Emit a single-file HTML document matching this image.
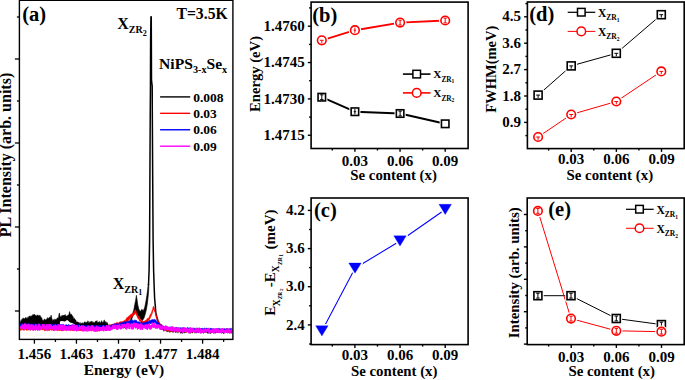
<!DOCTYPE html>
<html><head><meta charset="utf-8"><style>
html,body{margin:0;padding:0;background:#fff;}
svg{display:block;}
text{font-family:"Liberation Serif",serif;font-weight:bold;}
</style></head><body>
<svg width="685" height="380" viewBox="0 0 685 380">
<rect width="685" height="380" fill="#fff"/>
<path d="M19.50,323.18 L19.90,322.31 L20.30,322.47 L20.70,320.63 L21.10,320.76 L21.50,320.06 L21.90,319.10 L22.30,319.51 L22.70,318.27 L23.10,318.67 L23.50,317.95 L23.90,317.93 L24.30,318.47 L24.70,319.13 L25.10,317.81 L25.50,317.93 L25.90,317.25 L26.30,317.70 L26.70,318.38 L27.10,317.94 L27.50,318.71 L27.90,316.75 L28.30,317.94 L28.70,316.63 L29.10,316.13 L29.50,315.96 L29.90,316.19 L30.30,316.98 L30.70,315.72 L31.10,316.30 L31.50,316.20 L31.90,315.52 L32.30,315.64 L32.70,314.56 L33.10,314.42 L33.50,314.75 L33.90,314.80 L34.30,314.01 L34.70,314.45 L35.10,315.37 L35.50,315.53 L35.90,315.32 L36.30,316.08 L36.70,315.71 L37.10,314.74 L37.50,315.33 L37.90,315.25 L38.30,315.88 L38.70,315.61 L39.10,314.88 L39.50,316.40 L39.90,315.11 L40.30,315.92 L40.70,317.06 L41.10,316.77 L41.50,318.18 L41.90,317.88 L42.30,319.52 L42.70,320.20 L43.10,320.23 L43.50,320.78 L43.90,319.76 L44.30,318.95 L44.70,318.95 L45.10,320.16 L45.50,319.62 L45.90,319.99 L46.30,319.86 L46.70,318.69 L47.10,318.75 L47.50,317.46 L47.90,318.41 L48.30,318.11 L48.70,318.54 L49.10,318.06 L49.50,317.01 L49.90,317.10 L50.30,317.53 L50.70,316.31 L51.10,315.01 L51.50,316.03 L51.90,318.39 L52.30,319.21 L52.70,321.08 L53.10,319.72 L53.50,319.73 L53.90,319.78 L54.30,320.43 L54.70,318.80 L55.10,319.26 L55.50,319.25 L55.90,319.65 L56.30,319.34 L56.70,319.23 L57.10,317.98 L57.50,318.03 L57.90,317.74 L58.30,318.49 L58.70,315.74 L59.10,313.08 L59.50,313.05 L59.90,315.45 L60.30,316.59 L60.70,316.85 L61.10,316.80 L61.50,315.97 L61.90,315.27 L62.30,315.67 L62.70,315.21 L63.10,315.19 L63.50,315.51 L63.90,315.05 L64.30,314.88 L64.70,315.20 L65.10,315.45 L65.50,314.45 L65.90,316.09 L66.30,315.99 L66.70,316.28 L67.10,316.21 L67.50,315.37 L67.90,315.27 L68.30,314.63 L68.70,315.47 L69.10,313.32 L69.50,311.45 L69.90,312.32 L70.30,313.99 L70.70,314.39 L71.10,313.91 L71.50,314.30 L71.90,315.05 L72.30,315.44 L72.70,316.42 L73.10,316.35 L73.50,318.41 L73.90,318.47 L74.30,318.11 L74.70,318.76 L75.10,319.39 L75.50,319.88 L75.90,319.91 L76.30,321.61 L76.70,322.25 L77.10,321.68 L77.50,322.10 L77.90,321.76 L78.30,321.99 L78.70,322.56 L79.10,322.56 L79.50,323.72 L79.90,322.66 L80.30,322.49 L80.70,324.22 L81.10,323.52 L81.50,322.89 L81.90,323.66 L82.30,322.55 L82.70,323.20 L83.10,323.75 L83.50,323.28 L83.90,322.72 L84.30,321.86 L84.70,322.04 L85.10,321.66 L85.50,322.74 L85.90,322.30 L86.30,322.73 L86.70,321.90 L87.10,321.70 L87.50,321.99 L87.90,320.64 L88.30,321.30 L88.70,322.69 L89.10,322.70 L89.50,322.55 L89.90,321.61 L90.30,322.11 L90.70,321.79 L91.10,321.18 L91.50,321.15 L91.90,321.58 L92.30,321.52 L92.70,322.27 L93.10,322.72 L93.50,321.78 L93.90,322.63 L94.30,322.70 L94.70,322.62 L95.10,321.57 L95.50,321.33 L95.90,321.36 L96.30,321.32 L96.70,321.11 L97.10,320.50 L97.50,322.63 L97.90,322.54 L98.30,321.90 L98.70,322.23 L99.10,322.51 L99.50,321.23 L99.90,322.29 L100.30,322.75 L100.70,322.54 L101.10,321.65 L101.50,320.60 L101.90,321.52 L102.30,322.64 L102.70,321.83 L103.10,322.70 L103.50,321.61 L103.90,320.41 L104.30,319.81 L104.70,321.04 L105.10,322.66 L105.50,321.68 L105.90,321.62 L106.30,321.85 L106.70,323.45 L107.10,323.51 L107.50,322.56 L107.90,324.03 L108.30,325.11 L108.70,325.53 L109.10,325.73 L109.50,326.10 L109.90,325.36 L110.30,325.16 L110.70,326.89 L111.10,326.32 L111.50,326.11 L111.90,326.86 L112.30,325.97 L112.70,326.77 L113.10,326.69 L113.50,325.60 L113.90,325.68 L114.30,325.77 L114.70,325.68 L115.10,326.32 L115.50,325.74 L115.90,326.04 L116.30,325.53 L116.70,326.94 L117.10,325.95 L117.50,326.15 L117.90,326.38 L118.30,326.97 L118.70,326.11 L119.10,327.02 L119.50,326.28 L119.90,326.34 L120.30,326.34 L120.70,325.44 L121.10,326.21 L121.50,325.76 L121.90,325.45 L122.30,326.89 L122.70,325.77 L123.10,326.32 L123.50,326.79 L123.90,326.49 L124.30,326.09 L124.70,326.45 L125.10,326.52 L125.50,326.95 L125.90,325.74 L126.30,326.56 L126.70,326.01 L127.10,326.07 L127.50,326.98 L127.90,326.51 L127.90,327.30 L127.50,327.44 L127.10,327.48 L126.70,326.99 L126.30,327.00 L125.90,327.46 L125.50,327.86 L125.10,327.19 L124.70,327.66 L124.30,327.84 L123.90,327.45 L123.50,327.76 L123.10,327.06 L122.70,327.88 L122.30,327.45 L121.90,327.06 L121.50,327.49 L121.10,327.12 L120.70,327.84 L120.30,327.10 L119.90,327.16 L119.50,327.33 L119.10,327.85 L118.70,327.69 L118.30,327.32 L117.90,326.88 L117.50,327.79 L117.10,327.83 L116.70,327.04 L116.30,327.73 L115.90,326.95 L115.50,327.29 L115.10,327.29 L114.70,327.33 L114.30,327.10 L113.90,327.48 L113.50,327.49 L113.10,327.47 L112.70,327.06 L112.30,326.84 L111.90,326.79 L111.50,327.34 L111.10,327.07 L110.70,327.50 L110.30,327.01 L109.90,326.90 L109.50,326.82 L109.10,327.38 L108.70,327.35 L108.30,327.49 L107.90,327.41 L107.50,327.20 L107.10,327.09 L106.70,327.20 L106.30,327.68 L105.90,327.43 L105.50,326.89 L105.10,327.41 L104.70,326.94 L104.30,326.75 L103.90,326.92 L103.50,327.40 L103.10,326.72 L102.70,327.31 L102.30,327.18 L101.90,327.14 L101.50,327.38 L101.10,327.43 L100.70,326.63 L100.30,327.11 L99.90,327.29 L99.50,327.23 L99.10,327.23 L98.70,327.15 L98.30,327.43 L97.90,326.69 L97.50,326.94 L97.10,326.71 L96.70,326.60 L96.30,326.79 L95.90,327.25 L95.50,327.23 L95.10,327.44 L94.70,327.12 L94.30,327.36 L93.90,327.33 L93.50,327.36 L93.10,327.02 L92.70,327.04 L92.30,326.65 L91.90,327.31 L91.50,327.23 L91.10,327.12 L90.70,327.38 L90.30,327.31 L89.90,326.52 L89.50,327.11 L89.10,327.19 L88.70,326.61 L88.30,327.44 L87.90,326.77 L87.50,326.83 L87.10,327.31 L86.70,327.15 L86.30,327.08 L85.90,327.17 L85.50,326.94 L85.10,326.99 L84.70,326.63 L84.30,326.70 L83.90,326.41 L83.50,326.43 L83.10,326.78 L82.70,326.46 L82.30,326.63 L81.90,326.37 L81.50,326.86 L81.10,326.55 L80.70,326.85 L80.30,326.82 L79.90,326.72 L79.50,326.33 L79.10,326.68 L78.70,326.63 L78.30,327.28 L77.90,326.55 L77.50,326.85 L77.10,327.27 L76.70,327.25 L76.30,326.55 L75.90,326.73 L75.50,326.43 L75.10,326.73 L74.70,326.56 L74.30,326.50 L73.90,326.53 L73.50,326.92 L73.10,327.11 L72.70,327.08 L72.30,326.31 L71.90,326.39 L71.50,326.47 L71.10,326.95 L70.70,326.28 L70.30,326.33 L69.90,326.25 L69.50,326.54 L69.10,326.59 L68.70,326.82 L68.30,326.88 L67.90,327.00 L67.50,326.51 L67.10,327.14 L66.70,326.84 L66.30,326.65 L65.90,326.53 L65.50,326.97 L65.10,326.63 L64.70,326.56 L64.30,326.94 L63.90,326.22 L63.50,327.04 L63.10,326.58 L62.70,326.29 L62.30,326.64 L61.90,326.82 L61.50,326.10 L61.10,326.33 L60.70,326.09 L60.30,326.41 L59.90,326.24 L59.50,326.55 L59.10,326.34 L58.70,326.80 L58.30,326.34 L57.90,326.34 L57.50,326.23 L57.10,326.07 L56.70,326.18 L56.30,326.12 L55.90,326.24 L55.50,326.52 L55.10,326.12 L54.70,326.25 L54.30,326.91 L53.90,326.53 L53.50,326.31 L53.10,326.42 L52.70,326.82 L52.30,326.02 L51.90,326.80 L51.50,326.03 L51.10,326.74 L50.70,326.57 L50.30,326.86 L49.90,325.99 L49.50,326.34 L49.10,326.60 L48.70,325.96 L48.30,325.99 L47.90,326.59 L47.50,326.46 L47.10,326.80 L46.70,326.03 L46.30,326.13 L45.90,326.68 L45.50,326.77 L45.10,326.28 L44.70,325.98 L44.30,326.11 L43.90,326.62 L43.50,325.87 L43.10,326.09 L42.70,325.93 L42.30,326.79 L41.90,326.60 L41.50,326.79 L41.10,325.86 L40.70,326.31 L40.30,326.41 L39.90,326.11 L39.50,325.79 L39.10,326.21 L38.70,326.32 L38.30,325.78 L37.90,326.48 L37.50,326.07 L37.10,325.94 L36.70,326.08 L36.30,326.25 L35.90,326.16 L35.50,325.88 L35.10,326.55 L34.70,326.70 L34.30,326.19 L33.90,326.10 L33.50,326.65 L33.10,325.91 L32.70,326.65 L32.30,326.56 L31.90,325.81 L31.50,326.33 L31.10,326.38 L30.70,325.81 L30.30,326.55 L29.90,326.43 L29.50,326.31 L29.10,325.71 L28.70,325.87 L28.30,325.69 L27.90,326.06 L27.50,325.73 L27.10,325.74 L26.70,326.44 L26.30,326.54 L25.90,326.15 L25.50,325.84 L25.10,326.52 L24.70,326.45 L24.30,326.27 L23.90,326.50 L23.50,326.03 L23.10,326.08 L22.70,326.00 L22.30,326.23 L21.90,326.05 L21.50,326.03 L21.10,326.13 L20.70,325.96 L20.30,326.42 L19.90,326.27 L19.50,326.06Z" fill="#000" stroke="#000" stroke-width="0.4"/>
<path d="M59.9,325 L59.9,321.5 L62,321.1 L65,321.4 L67,320.1 L68,320.5 L70,322.4 L72,323.1 L74.7,324.2 L75,325 Z" fill="#fff"/>
<path d="M160.00,325.43 L160.50,326.04 L161.00,326.29 L161.50,327.42 L162.00,326.37 L162.50,327.86 L163.00,328.29 L163.50,327.43 L164.00,329.02 L164.50,328.97 L165.00,329.56 L165.50,328.87 L166.00,329.30 L166.50,329.36 L167.00,330.37 L167.50,329.75 L168.00,329.42 L168.50,329.56 L169.00,329.35 L169.50,329.03 L170.00,329.15 L170.50,330.36 L171.00,329.51 L171.50,330.59 L172.00,329.53 L172.50,329.59 L173.00,330.02 L173.50,329.54 L174.00,329.87 L174.50,330.84 L175.00,330.76 L175.50,330.68 L176.00,330.42 L176.50,330.91 L177.00,330.99 L177.50,330.40 L178.00,330.71 L178.50,329.67 L179.00,330.80 L179.50,330.39 L180.00,330.90 L180.50,330.73 L181.00,330.16 L181.50,329.78 L182.00,331.18 L182.50,329.90 L183.00,330.46 L183.50,330.25 L184.00,330.18 L184.50,330.88 L185.00,331.26 L185.50,330.12 L186.00,330.75 L186.50,330.18 L187.00,330.59 L187.50,330.33 L188.00,329.97 L188.50,329.96 L189.00,330.03 L189.50,331.15 L190.00,330.50 L190.50,330.05 L191.00,331.15 L191.50,331.29 L192.00,330.42 L192.50,329.92 L193.00,330.01 L193.50,329.85 L194.00,330.25 L194.50,329.85 L195.00,330.08 L195.50,330.11 L196.00,330.61 L196.50,331.12 L197.00,330.90 L197.50,330.36 L198.00,330.36 L198.50,330.54 L199.00,330.30 L199.50,330.24 L200.00,329.80 L200.50,330.14 L201.00,331.25 L201.50,329.90 L202.00,330.51 L202.50,330.71 L203.00,331.08 L203.50,330.05 L204.00,330.13 L204.50,330.10 L205.00,330.34 L205.50,330.41 L206.00,331.23 L206.50,331.06 L207.00,331.10 L207.50,329.73 L208.00,329.75 L208.50,330.84 L209.00,331.13 L209.50,330.46 L210.00,330.64 L210.50,329.70 L211.00,330.33 L211.50,331.18 L212.00,331.02 L212.50,331.07 L213.00,331.26 L213.50,330.10 L214.00,329.87 L214.50,329.95 L215.00,330.54 L215.50,330.79 L216.00,331.21 L216.50,330.85 L217.00,330.74 L217.50,330.92 L218.00,330.43 L218.50,330.58 L219.00,329.76 L219.50,330.95 L220.00,330.07 L220.50,331.17 L221.00,330.73 L221.50,330.19 L222.00,329.90 L222.50,330.10 L223.00,330.72 L223.50,330.82 L224.00,329.88 L224.50,329.81 L225.00,330.54 L225.50,330.63 L226.00,330.32 L226.50,330.06 L227.00,330.66 L227.50,329.72 L228.00,330.18 L228.50,330.44 L229.00,331.23 L229.50,330.73 L230.00,331.11 L230.50,330.46 L231.00,330.08 L231.50,330.10 L232.00,331.24 L232.00,331.86 L231.50,333.28 L231.00,331.41 L230.50,332.82 L230.00,333.29 L229.50,333.04 L229.00,332.84 L228.50,332.70 L228.00,332.17 L227.50,331.69 L227.00,332.24 L226.50,332.92 L226.00,332.37 L225.50,331.33 L225.00,331.29 L224.50,331.76 L224.00,333.64 L223.50,333.36 L223.00,333.61 L222.50,331.91 L222.00,332.50 L221.50,331.15 L221.00,331.23 L220.50,331.70 L220.00,333.01 L219.50,331.56 L219.00,331.26 L218.50,333.08 L218.00,331.99 L217.50,331.88 L217.00,331.89 L216.50,332.62 L216.00,333.05 L215.50,333.18 L215.00,332.95 L214.50,333.12 L214.00,331.51 L213.50,333.44 L213.00,332.31 L212.50,332.14 L212.00,331.68 L211.50,332.03 L211.00,333.50 L210.50,333.50 L210.00,332.25 L209.50,331.62 L209.00,331.07 L208.50,333.46 L208.00,332.66 L207.50,333.39 L207.00,332.97 L206.50,331.01 L206.00,331.72 L205.50,331.82 L205.00,332.86 L204.50,331.68 L204.00,332.60 L203.50,333.48 L203.00,331.70 L202.50,331.87 L202.00,333.32 L201.50,332.93 L201.00,331.65 L200.50,333.37 L200.00,331.14 L199.50,331.07 L199.00,331.08 L198.50,332.96 L198.00,333.08 L197.50,332.04 L197.00,331.04 L196.50,333.30 L196.00,331.91 L195.50,331.46 L195.00,333.35 L194.50,331.92 L194.00,332.18 L193.50,331.08 L193.00,332.07 L192.50,333.09 L192.00,333.08 L191.50,331.87 L191.00,331.48 L190.50,333.45 L190.00,331.26 L189.50,333.42 L189.00,331.85 L188.50,331.66 L188.00,330.94 L187.50,331.37 L187.00,331.79 L186.50,331.90 L186.00,331.91 L185.50,332.65 L185.00,331.00 L184.50,332.86 L184.00,333.35 L183.50,331.40 L183.00,331.77 L182.50,333.33 L182.00,333.50 L181.50,332.81 L181.00,333.20 L180.50,333.24 L180.00,331.92 L179.50,331.01 L179.00,330.95 L178.50,331.14 L178.00,333.26 L177.50,331.24 L177.00,331.67 L176.50,330.98 L176.00,333.02 L175.50,332.24 L175.00,331.56 L174.50,331.01 L174.00,330.87 L173.50,331.63 L173.00,332.78 L172.50,331.02 L172.00,332.19 L171.50,330.75 L171.00,330.73 L170.50,332.22 L170.00,330.85 L169.50,332.52 L169.00,330.49 L168.50,331.23 L168.00,331.79 L167.50,331.90 L167.00,330.30 L166.50,331.52 L166.00,330.79 L165.50,330.41 L165.00,329.46 L164.50,329.79 L164.00,331.44 L163.50,330.60 L163.00,329.37 L162.50,329.63 L162.00,330.12 L161.50,329.50 L161.00,328.09 L160.50,328.67 L160.00,329.53Z" fill="#000" stroke="#000" stroke-width="0.4"/>
<path d="M129.00,325.00 L131.00,318.00 L132.50,314.00 L133.90,309.40 L134.70,304.70 L135.60,300.50 L136.40,295.30 L137.20,300.50 L137.80,305.00 L138.80,309.00 L140.00,311.50 L141.00,310.50 L141.90,309.20 L142.80,310.50 L143.80,310.00 L144.80,307.00 L145.80,302.00 L146.80,296.00 L147.60,290.00 L148.20,284.00 L148.90,284.00 L148.60,292.00 L148.00,298.00 L147.30,304.00 L146.40,309.50 L145.30,314.00 L144.00,318.00 L142.50,320.50 L141.00,319.50 L139.50,318.00 L138.00,316.00 L136.50,313.00 L135.00,312.50 L133.50,314.00 L132.00,318.50 L130.50,324.00 L129.50,326.00Z" fill="#000" stroke="#000" stroke-width="0.6" stroke-linejoin="round"/>
<path d="M148.50,285.00 L149.10,270.00 L149.60,240.00 L149.90,180.00 L150.20,120.00 L150.45,84.00 L150.60,40.00 L150.95,16.80 L151.25,16.80 L151.35,40.00 L151.50,80.00 L152.20,86.00 L152.35,120.00 L152.70,180.00 L153.10,240.00 L153.60,270.00 L154.10,285.00 L154.60,298.00 L155.30,306.00 L155.80,312.60 L156.80,317.00 L157.80,320.50 L159.70,324.50 L162.00,327.50 L166.00,330.00" fill="none" stroke="#000" stroke-width="1.5" stroke-linejoin="round"/>
<path d="M19.50,328.59 L20.00,328.33 L20.50,328.84 L21.00,328.09 L21.50,328.16 L22.00,328.16 L22.50,328.03 L23.00,329.06 L23.50,328.63 L24.00,328.28 L24.50,328.39 L25.00,329.22 L25.50,328.55 L26.00,328.16 L26.50,328.98 L27.00,328.76 L27.50,329.24 L28.00,328.00 L28.50,328.52 L29.00,329.01 L29.50,329.04 L30.00,329.15 L30.50,327.92 L31.00,328.28 L31.50,328.04 L32.00,328.14 L32.50,329.24 L33.00,328.70 L33.50,329.19 L34.00,328.41 L34.50,329.11 L35.00,328.53 L35.50,328.26 L36.00,328.99 L36.50,329.23 L37.00,328.06 L37.50,328.75 L38.00,328.78 L38.50,328.22 L39.00,328.44 L39.50,328.12 L40.00,328.21 L40.50,328.29 L41.00,328.77 L41.50,328.85 L42.00,328.22 L42.50,327.96 L43.00,328.40 L43.50,328.90 L44.00,328.21 L44.50,328.39 L45.00,328.24 L45.50,329.07 L46.00,328.73 L46.50,328.06 L47.00,328.11 L47.50,328.53 L48.00,328.75 L48.50,328.87 L49.00,328.11 L49.50,328.22 L50.00,328.96 L50.50,328.57 L51.00,328.39 L51.50,328.43 L52.00,329.34 L52.50,328.44 L53.00,328.80 L53.50,328.51 L54.00,328.60 L54.50,329.23 L55.00,329.42 L55.50,328.53 L56.00,328.30 L56.50,329.05 L57.00,328.32 L57.50,328.04 L58.00,329.30 L58.50,328.64 L59.00,329.19 L59.50,328.62 L60.00,329.29 L60.50,328.70 L61.00,328.29 L61.50,328.08 L62.00,328.84 L62.50,328.96 L63.00,329.34 L63.50,328.20 L64.00,328.95 L64.50,328.60 L65.00,328.79 L65.50,328.29 L66.00,328.49 L66.50,328.82 L67.00,329.39 L67.50,328.25 L68.00,328.79 L68.50,329.23 L69.00,329.46 L69.50,328.39 L70.00,328.29 L70.50,329.44 L71.00,329.49 L71.50,328.80 L72.00,328.20 L72.50,329.43 L73.00,328.68 L73.50,329.40 L74.00,329.01 L74.50,329.30 L75.00,328.37 L75.50,329.25 L76.00,328.46 L76.50,328.72 L77.00,329.34 L77.50,329.32 L78.00,328.42 L78.50,328.47 L79.00,328.73 L79.50,328.90 L80.00,328.71 L80.50,328.35 L81.00,328.53 L81.50,329.20 L82.00,329.44 L82.50,328.25 L83.00,328.98 L83.50,329.26 L84.00,328.25 L84.50,329.38 L85.00,328.37 L85.50,329.05 L86.00,328.98 L86.50,329.09 L87.00,328.65 L87.50,328.81 L88.00,329.04 L88.50,328.82 L89.00,329.15 L89.50,328.86 L90.00,328.85 L90.50,328.27 L91.00,329.11 L91.50,328.93 L92.00,328.58 L92.50,329.32 L93.00,329.35 L93.50,328.90 L94.00,328.51 L94.50,328.93 L95.00,328.42 L95.50,328.45 L96.00,328.88 L96.50,328.41 L97.00,328.90 L97.50,329.00 L98.00,328.34 L98.50,329.18 L99.00,328.41 L99.50,329.32 L100.00,329.39 L100.50,328.81 L101.00,327.96 L101.50,328.38 L102.00,328.00 L102.50,328.59 L103.00,327.24 L103.50,328.04 L104.00,328.03 L104.50,327.45 L105.00,327.36 L105.50,326.28 L106.00,327.17 L106.50,326.29 L107.00,326.74 L107.50,326.48 L108.00,325.23 L108.50,325.90 L109.00,325.90 L109.50,324.49 L110.00,324.69 L110.50,325.12 L111.00,324.14 L111.50,325.04 L112.00,324.02 L112.50,324.64 L113.00,323.56 L113.50,323.92 L114.00,324.37 L114.50,323.23 L115.00,323.17 L115.50,323.37 L116.00,322.97 L116.50,322.43 L117.00,322.49 L117.50,322.33 L118.00,323.27 L118.50,322.77 L119.00,322.93 L119.50,321.78 L120.00,322.50 L120.50,321.38 L121.00,321.78 L121.50,321.75 L122.00,321.18 L122.50,321.72 L123.00,321.10 L123.50,320.95 L124.00,321.20 L124.50,319.93 L125.00,320.99 L125.50,319.78 L126.00,318.75 L126.50,318.62 L127.00,317.17 L127.50,317.80 L128.00,316.84 L128.50,316.15 L129.00,316.34 L129.50,315.50 L130.00,314.75 L130.50,315.16 L131.00,313.80 L131.50,314.50 L132.00,313.32 L132.50,313.48 L133.00,313.58 L133.50,312.46 L134.00,312.01 L134.50,310.96 L135.00,309.96 L135.50,309.45 L136.00,310.74 L136.50,312.53 L137.00,313.41 L137.50,314.52 L138.00,316.05 L138.50,315.98 L139.00,317.12 L139.50,318.44 L140.00,318.28 L140.50,318.98 L141.00,320.20 L141.50,320.12 L142.00,320.75 L142.50,320.84 L143.00,321.62 L143.50,321.50 L144.00,320.84 L144.50,321.30 L145.00,320.96 L145.50,320.09 L146.00,320.81 L146.50,319.44 L147.00,318.91 L147.50,318.23 L148.00,318.39 L148.50,318.12 L149.00,317.40 L149.50,316.06 L150.00,315.07 L150.50,313.92 L151.00,314.00 L151.50,312.35 L152.00,310.52 L152.50,309.40 L153.00,307.27 L153.50,306.11 L154.00,307.36 L154.50,308.21 L155.00,310.66 L155.50,311.26 L156.00,313.74 L156.50,315.37 L157.00,316.63 L157.50,317.88 L158.00,320.39 L158.50,320.27 L159.00,321.97 L159.50,323.47 L160.00,323.30 L160.50,323.83 L161.00,324.85 L161.50,325.16 L162.00,325.80 L162.50,326.49 L163.00,326.04 L163.50,326.43 L164.00,326.62 L164.50,326.47 L165.00,327.85 L165.50,327.90 L166.00,328.00 L166.50,327.21 L167.00,328.58 L167.50,328.64 L168.00,328.45 L168.50,328.85 L169.00,328.45 L169.50,328.14 L170.00,327.98 L170.50,328.16 L171.00,327.90 L171.50,328.32 L172.00,328.91 L172.50,328.84 L173.00,329.06 L173.50,328.88 L174.00,328.27 L174.50,328.68 L175.00,328.52 L175.50,329.02 L176.00,328.66 L176.50,328.30 L177.00,328.84 L177.50,329.30 L178.00,328.26 L178.50,329.20 L179.00,327.99 L179.50,328.34 L180.00,328.32 L180.50,329.04 L181.00,329.33 L181.50,329.06 L182.00,328.48 L182.50,329.26 L183.00,328.49 L183.50,328.38 L184.00,329.32 L184.50,328.94 L185.00,329.04 L185.50,329.00 L186.00,329.45 L186.50,328.75 L187.00,329.27 L187.50,329.08 L188.00,329.31 L188.50,328.73 L189.00,329.14 L189.50,328.93 L190.00,328.57 L190.50,328.45 L191.00,329.03 L191.50,328.28 L192.00,329.45 L192.50,328.39 L193.00,328.23 L193.50,328.35 L194.00,329.51 L194.50,328.70 L195.00,328.42 L195.50,328.27 L196.00,328.30 L196.50,329.21 L197.00,329.14 L197.50,329.24 L198.00,329.30 L198.50,328.37 L199.00,329.11 L199.50,328.80 L200.00,329.44 L200.50,329.46 L201.00,329.56 L201.50,328.42 L202.00,329.55 L202.50,329.62 L203.00,329.67 L203.50,328.50 L204.00,328.65 L204.50,328.53 L205.00,328.43 L205.50,329.57 L206.00,329.53 L206.50,329.29 L207.00,329.56 L207.50,329.30 L208.00,328.83 L208.50,328.57 L209.00,328.58 L209.50,329.51 L210.00,328.74 L210.50,328.91 L211.00,329.07 L211.50,328.51 L212.00,328.85 L212.50,328.89 L213.00,329.51 L213.50,329.03 L214.00,328.97 L214.50,329.88 L215.00,329.24 L215.50,329.73 L216.00,329.42 L216.50,328.60 L217.00,329.14 L217.50,329.18 L218.00,329.66 L218.50,329.07 L219.00,329.58 L219.50,329.36 L220.00,328.92 L220.50,329.83 L221.00,328.76 L221.50,329.78 L222.00,328.88 L222.50,328.65 L223.00,328.94 L223.50,329.73 L224.00,330.04 L224.50,328.69 L225.00,329.38 L225.50,329.39 L226.00,329.82 L226.50,328.97 L227.00,329.41 L227.50,329.22 L228.00,329.90 L228.50,329.11 L229.00,330.07 L229.50,329.16 L230.00,329.07 L230.50,329.76 L231.00,329.48 L231.50,328.95 L232.00,329.69 L232.00,332.85 L231.50,332.93 L231.00,331.88 L230.50,332.41 L230.00,332.94 L229.50,332.83 L229.00,332.86 L228.50,331.43 L228.00,332.95 L227.50,332.81 L227.00,332.39 L226.50,332.09 L226.00,331.80 L225.50,331.32 L225.00,331.82 L224.50,332.76 L224.00,332.91 L223.50,332.37 L223.00,332.52 L222.50,331.96 L222.00,332.87 L221.50,332.04 L221.00,331.81 L220.50,332.33 L220.00,332.74 L219.50,333.00 L219.00,332.32 L218.50,331.82 L218.00,332.71 L217.50,332.48 L217.00,332.96 L216.50,331.31 L216.00,331.72 L215.50,332.21 L215.00,332.59 L214.50,332.88 L214.00,332.58 L213.50,331.86 L213.00,331.91 L212.50,332.28 L212.00,332.30 L211.50,331.79 L211.00,332.56 L210.50,331.38 L210.00,332.33 L209.50,331.90 L209.00,332.14 L208.50,331.76 L208.00,331.20 L207.50,331.96 L207.00,332.63 L206.50,331.37 L206.00,332.38 L205.50,331.62 L205.00,331.20 L204.50,332.52 L204.00,332.21 L203.50,331.06 L203.00,331.05 L202.50,332.31 L202.00,332.75 L201.50,331.46 L201.00,332.68 L200.50,331.82 L200.00,332.26 L199.50,332.11 L199.00,331.13 L198.50,332.28 L198.00,332.50 L197.50,332.24 L197.00,332.34 L196.50,331.03 L196.00,331.27 L195.50,332.25 L195.00,331.36 L194.50,332.21 L194.00,330.94 L193.50,331.14 L193.00,332.46 L192.50,331.05 L192.00,332.62 L191.50,331.10 L191.00,332.10 L190.50,330.87 L190.00,330.89 L189.50,331.12 L189.00,331.23 L188.50,332.00 L188.00,331.02 L187.50,331.57 L187.00,331.68 L186.50,332.58 L186.00,332.49 L185.50,331.87 L185.00,331.49 L184.50,330.81 L184.00,331.58 L183.50,332.43 L183.00,331.80 L182.50,332.22 L182.00,330.97 L181.50,330.82 L181.00,331.76 L180.50,330.83 L180.00,332.41 L179.50,331.88 L179.00,331.49 L178.50,331.28 L178.00,331.46 L177.50,331.24 L177.00,331.15 L176.50,331.70 L176.00,332.09 L175.50,332.15 L175.00,331.33 L174.50,331.84 L174.00,332.30 L173.50,332.04 L173.00,330.71 L172.50,330.96 L172.00,330.81 L171.50,331.99 L171.00,331.44 L170.50,331.81 L170.00,330.98 L169.50,331.61 L169.00,331.24 L168.50,331.21 L168.00,330.87 L167.50,330.64 L167.00,330.42 L166.50,330.74 L166.00,330.31 L165.50,329.86 L165.00,329.55 L164.50,329.90 L164.00,328.37 L163.50,327.83 L163.00,328.14 L162.50,327.27 L162.00,327.75 L161.50,327.94 L161.00,327.23 L160.50,325.59 L160.00,326.51 L159.50,325.37 L159.00,324.41 L158.50,323.01 L158.00,322.17 L157.50,320.70 L157.00,320.03 L156.50,318.28 L156.00,317.19 L155.50,314.68 L155.00,312.59 L154.50,311.67 L154.00,310.16 L153.50,309.59 L153.00,310.38 L152.50,313.09 L152.00,314.03 L151.50,315.23 L151.00,316.68 L150.50,317.08 L150.00,318.89 L149.50,319.25 L149.00,319.95 L148.50,320.33 L148.00,321.80 L147.50,321.43 L147.00,322.53 L146.50,323.07 L146.00,322.21 L145.50,324.14 L145.00,323.77 L144.50,323.94 L144.00,324.92 L143.50,323.87 L143.00,325.08 L142.50,324.25 L142.00,323.75 L141.50,322.33 L141.00,323.05 L140.50,322.35 L140.00,320.64 L139.50,321.53 L139.00,319.85 L138.50,318.90 L138.00,318.86 L137.50,317.67 L137.00,316.61 L136.50,315.28 L136.00,314.78 L135.50,312.11 L135.00,314.31 L134.50,314.39 L134.00,314.98 L133.50,315.62 L133.00,315.66 L132.50,316.69 L132.00,316.41 L131.50,317.64 L131.00,317.45 L130.50,318.07 L130.00,318.58 L129.50,319.52 L129.00,320.52 L128.50,320.14 L128.00,321.10 L127.50,321.14 L127.00,321.85 L126.50,321.53 L126.00,323.26 L125.50,323.74 L125.00,324.51 L124.50,324.27 L124.00,324.65 L123.50,324.51 L123.00,325.18 L122.50,324.05 L122.00,325.35 L121.50,325.72 L121.00,324.53 L120.50,325.05 L120.00,326.00 L119.50,325.15 L119.00,325.12 L118.50,325.17 L118.00,325.57 L117.50,326.43 L117.00,327.09 L116.50,325.53 L116.00,325.67 L115.50,326.91 L115.00,327.40 L114.50,326.23 L114.00,327.47 L113.50,327.77 L113.00,327.71 L112.50,326.40 L112.00,327.92 L111.50,328.13 L111.00,327.19 L110.50,327.81 L110.00,327.85 L109.50,327.65 L109.00,327.91 L108.50,327.77 L108.00,327.84 L107.50,328.08 L107.00,329.05 L106.50,327.93 L106.00,328.43 L105.50,329.00 L105.00,328.82 L104.50,329.18 L104.00,329.11 L103.50,330.30 L103.00,329.54 L102.50,330.53 L102.00,329.39 L101.50,330.29 L101.00,329.96 L100.50,330.41 L100.00,331.17 L99.50,331.17 L99.00,330.84 L98.50,330.32 L98.00,331.42 L97.50,330.08 L97.00,330.68 L96.50,330.51 L96.00,330.80 L95.50,331.11 L95.00,331.05 L94.50,329.88 L94.00,330.02 L93.50,330.34 L93.00,331.07 L92.50,330.02 L92.00,330.57 L91.50,331.31 L91.00,330.95 L90.50,330.01 L90.00,330.08 L89.50,330.23 L89.00,330.85 L88.50,330.34 L88.00,330.33 L87.50,329.60 L87.00,330.29 L86.50,330.06 L86.00,329.66 L85.50,330.20 L85.00,331.32 L84.50,329.77 L84.00,330.91 L83.50,330.24 L83.00,330.76 L82.50,329.90 L82.00,331.23 L81.50,330.25 L81.00,330.45 L80.50,331.00 L80.00,330.65 L79.50,330.42 L79.00,330.78 L78.50,330.46 L78.00,330.52 L77.50,329.66 L77.00,330.41 L76.50,331.16 L76.00,330.87 L75.50,329.75 L75.00,330.43 L74.50,329.52 L74.00,331.20 L73.50,330.32 L73.00,330.13 L72.50,330.83 L72.00,330.60 L71.50,329.75 L71.00,331.09 L70.50,330.62 L70.00,330.14 L69.50,330.52 L69.00,330.21 L68.50,330.15 L68.00,329.83 L67.50,330.51 L67.00,330.66 L66.50,330.78 L66.00,330.12 L65.50,329.53 L65.00,330.48 L64.50,329.91 L64.00,330.16 L63.50,330.49 L63.00,330.56 L62.50,330.86 L62.00,330.58 L61.50,330.71 L61.00,330.90 L60.50,330.61 L60.00,329.71 L59.50,330.06 L59.00,330.64 L58.50,330.32 L58.00,330.06 L57.50,330.91 L57.00,330.61 L56.50,330.00 L56.00,330.35 L55.50,329.51 L55.00,330.09 L54.50,330.39 L54.00,330.14 L53.50,330.49 L53.00,330.66 L52.50,329.95 L52.00,329.28 L51.50,329.92 L51.00,329.58 L50.50,329.40 L50.00,330.35 L49.50,329.55 L49.00,329.98 L48.50,330.51 L48.00,330.61 L47.50,330.95 L47.00,329.86 L46.50,329.35 L46.00,330.90 L45.50,329.34 L45.00,330.47 L44.50,330.90 L44.00,329.48 L43.50,329.73 L43.00,329.42 L42.50,330.07 L42.00,329.71 L41.50,329.56 L41.00,329.39 L40.50,329.39 L40.00,330.62 L39.50,330.36 L39.00,329.64 L38.50,329.43 L38.00,329.51 L37.50,330.67 L37.00,329.91 L36.50,329.30 L36.00,330.11 L35.50,330.45 L35.00,329.84 L34.50,329.35 L34.00,330.38 L33.50,330.23 L33.00,330.55 L32.50,329.31 L32.00,329.61 L31.50,329.65 L31.00,330.18 L30.50,330.36 L30.00,330.36 L29.50,329.96 L29.00,329.82 L28.50,329.41 L28.00,330.58 L27.50,329.66 L27.00,329.88 L26.50,330.59 L26.00,329.44 L25.50,329.33 L25.00,329.00 L24.50,330.55 L24.00,329.10 L23.50,330.54 L23.00,329.65 L22.50,329.65 L22.00,329.56 L21.50,330.05 L21.00,330.33 L20.50,330.16 L20.00,330.32 L19.50,329.05Z" fill="#f00" stroke="#f00" stroke-width="0.4"/>
<path d="M19.50,324.30 L20.00,324.67 L20.50,323.77 L21.00,323.36 L21.50,324.11 L22.00,324.51 L22.50,323.56 L23.00,324.45 L23.50,324.75 L24.00,323.64 L24.50,324.24 L25.00,324.36 L25.50,324.03 L26.00,323.62 L26.50,323.71 L27.00,324.51 L27.50,324.58 L28.00,324.06 L28.50,323.47 L29.00,324.62 L29.50,324.58 L30.00,323.72 L30.50,324.28 L31.00,324.80 L31.50,324.79 L32.00,324.21 L32.50,324.15 L33.00,324.33 L33.50,323.70 L34.00,323.71 L34.50,323.70 L35.00,324.54 L35.50,324.01 L36.00,324.34 L36.50,324.08 L37.00,324.27 L37.50,323.69 L38.00,323.53 L38.50,325.06 L39.00,324.07 L39.50,323.65 L40.00,324.50 L40.50,324.76 L41.00,323.75 L41.50,324.47 L42.00,324.07 L42.50,324.36 L43.00,323.56 L43.50,323.59 L44.00,325.13 L44.50,324.94 L45.00,324.34 L45.50,324.47 L46.00,323.99 L46.50,324.83 L47.00,324.27 L47.50,325.11 L48.00,324.83 L48.50,324.92 L49.00,325.16 L49.50,324.03 L50.00,323.69 L50.50,323.96 L51.00,323.93 L51.50,323.78 L52.00,323.74 L52.50,324.56 L53.00,325.06 L53.50,324.41 L54.00,325.20 L54.50,325.15 L55.00,323.80 L55.50,324.67 L56.00,324.37 L56.50,323.94 L57.00,325.30 L57.50,324.19 L58.00,324.70 L58.50,324.84 L59.00,325.36 L59.50,324.92 L60.00,324.49 L60.50,324.60 L61.00,324.15 L61.50,325.46 L62.00,325.51 L62.50,324.30 L63.00,324.02 L63.50,324.39 L64.00,324.56 L64.50,325.45 L65.00,325.47 L65.50,325.38 L66.00,324.13 L66.50,325.33 L67.00,325.23 L67.50,325.14 L68.00,325.70 L68.50,324.23 L69.00,324.39 L69.50,325.38 L70.00,325.69 L70.50,325.29 L71.00,324.70 L71.50,325.18 L72.00,325.47 L72.50,324.44 L73.00,324.80 L73.50,324.71 L74.00,324.52 L74.50,325.10 L75.00,324.62 L75.50,324.75 L76.00,324.61 L76.50,325.48 L77.00,324.44 L77.50,325.58 L78.00,324.76 L78.50,324.52 L79.00,325.96 L79.50,324.85 L80.00,326.01 L80.50,325.92 L81.00,325.97 L81.50,324.78 L82.00,325.29 L82.50,324.75 L83.00,326.10 L83.50,325.97 L84.00,325.65 L84.50,325.38 L85.00,325.22 L85.50,326.01 L86.00,325.47 L86.50,325.73 L87.00,324.97 L87.50,325.11 L88.00,324.86 L88.50,325.93 L89.00,325.69 L89.50,325.05 L90.00,326.23 L90.50,325.28 L91.00,325.53 L91.50,325.14 L92.00,325.34 L92.50,326.26 L93.00,325.47 L93.50,325.22 L94.00,325.75 L94.50,325.49 L95.00,326.45 L95.50,325.18 L96.00,326.55 L96.50,325.07 L97.00,326.41 L97.50,326.04 L98.00,325.30 L98.50,325.72 L99.00,325.40 L99.50,325.35 L100.00,325.26 L100.50,325.51 L101.00,326.51 L101.50,326.51 L102.00,326.39 L102.50,325.06 L103.00,325.36 L103.50,326.32 L104.00,324.97 L104.50,326.04 L105.00,325.34 L105.50,326.43 L106.00,324.88 L106.50,326.14 L107.00,325.39 L107.50,325.06 L108.00,324.83 L108.50,326.15 L109.00,325.66 L109.50,325.10 L110.00,325.50 L110.50,326.14 L111.00,324.91 L111.50,325.35 L112.00,324.54 L112.50,324.49 L113.00,325.31 L113.50,325.10 L114.00,324.15 L114.50,323.85 L115.00,323.74 L115.50,324.45 L116.00,324.14 L116.50,323.66 L117.00,323.43 L117.50,323.95 L118.00,323.98 L118.50,324.02 L119.00,323.53 L119.50,322.80 L120.00,322.46 L120.50,323.40 L121.00,322.75 L121.50,323.13 L122.00,321.94 L122.50,323.02 L123.00,322.14 L123.50,322.82 L124.00,322.73 L124.50,322.01 L125.00,321.12 L125.50,322.46 L126.00,321.66 L126.50,322.20 L127.00,321.13 L127.50,320.90 L128.00,321.83 L128.50,320.99 L129.00,320.56 L129.50,320.79 L130.00,321.05 L130.50,320.01 L131.00,320.73 L131.50,320.51 L132.00,320.53 L132.50,319.79 L133.00,320.64 L133.50,320.71 L134.00,320.68 L134.50,319.71 L135.00,320.24 L135.50,319.97 L136.00,320.82 L136.50,319.98 L137.00,321.54 L137.50,321.93 L138.00,321.45 L138.50,321.74 L139.00,322.03 L139.50,322.30 L140.00,321.73 L140.50,323.40 L141.00,322.36 L141.50,322.44 L142.00,322.46 L142.50,322.85 L143.00,323.91 L143.50,322.45 L144.00,322.35 L144.50,323.12 L145.00,322.11 L145.50,321.63 L146.00,322.36 L146.50,322.12 L147.00,321.84 L147.50,321.93 L148.00,320.78 L148.50,321.82 L149.00,321.39 L149.50,320.12 L150.00,320.06 L150.50,320.46 L151.00,320.28 L151.50,319.74 L152.00,319.30 L152.50,319.67 L153.00,319.15 L153.50,319.80 L154.00,320.14 L154.50,318.92 L155.00,319.52 L155.50,320.23 L156.00,319.73 L156.50,321.22 L157.00,321.83 L157.50,321.39 L158.00,321.87 L158.50,323.12 L159.00,323.19 L159.50,323.56 L160.00,325.01 L160.50,324.94 L161.00,324.44 L161.50,324.48 L162.00,324.84 L162.50,325.20 L163.00,326.27 L163.50,326.19 L164.00,326.56 L164.50,326.60 L165.00,326.86 L165.50,325.69 L166.00,326.53 L166.50,327.33 L167.00,327.39 L167.50,326.40 L168.00,326.78 L168.50,327.21 L169.00,326.88 L169.50,327.25 L170.00,326.61 L170.50,327.22 L171.00,327.36 L171.50,326.61 L172.00,326.82 L172.50,328.18 L173.00,327.89 L173.50,328.17 L174.00,327.71 L174.50,328.02 L175.00,328.16 L175.50,328.19 L176.00,326.85 L176.50,327.85 L177.00,327.28 L177.50,327.96 L178.00,327.34 L178.50,327.79 L179.00,328.43 L179.50,327.97 L180.00,327.40 L180.50,327.86 L181.00,327.74 L181.50,328.60 L182.00,327.56 L182.50,327.61 L183.00,328.19 L183.50,327.37 L184.00,328.15 L184.50,328.75 L185.00,328.07 L185.50,327.70 L186.00,328.05 L186.50,328.18 L187.00,327.59 L187.50,327.57 L188.00,327.61 L188.50,327.89 L189.00,328.10 L189.50,327.94 L190.00,327.89 L190.50,327.65 L191.00,328.39 L191.50,328.86 L192.00,328.50 L192.50,328.44 L193.00,328.58 L193.50,327.86 L194.00,328.68 L194.50,328.29 L195.00,328.44 L195.50,328.55 L196.00,328.32 L196.50,328.07 L197.00,327.97 L197.50,327.94 L198.00,328.42 L198.50,328.21 L199.00,328.54 L199.50,327.63 L200.00,328.18 L200.50,329.00 L201.00,328.01 L201.50,328.53 L202.00,328.43 L202.50,328.10 L203.00,329.23 L203.50,328.13 L204.00,328.90 L204.50,327.93 L205.00,327.79 L205.50,329.08 L206.00,328.39 L206.50,327.80 L207.00,328.32 L207.50,328.41 L208.00,328.89 L208.50,327.90 L209.00,328.09 L209.50,329.27 L210.00,328.92 L210.50,327.99 L211.00,328.29 L211.50,328.32 L212.00,328.84 L212.50,328.75 L213.00,329.13 L213.50,329.09 L214.00,328.61 L214.50,328.97 L215.00,328.99 L215.50,329.02 L216.00,328.57 L216.50,329.07 L217.00,328.96 L217.50,329.29 L218.00,328.04 L218.50,329.23 L219.00,327.85 L219.50,329.08 L220.00,328.79 L220.50,328.66 L221.00,329.41 L221.50,328.79 L222.00,328.55 L222.50,329.14 L223.00,329.29 L223.50,328.87 L224.00,328.51 L224.50,328.63 L225.00,328.65 L225.50,329.08 L226.00,328.40 L226.50,328.56 L227.00,328.83 L227.50,328.56 L228.00,328.47 L228.50,329.22 L229.00,329.32 L229.50,328.77 L230.00,328.69 L230.50,328.28 L231.00,328.47 L231.50,328.23 L232.00,328.92 L232.00,331.94 L231.50,331.71 L231.00,331.32 L230.50,331.49 L230.00,331.73 L229.50,332.07 L229.00,331.87 L228.50,331.63 L228.00,331.42 L227.50,332.59 L227.00,332.46 L226.50,332.20 L226.00,331.83 L225.50,331.66 L225.00,331.79 L224.50,331.93 L224.00,332.16 L223.50,331.55 L223.00,331.77 L222.50,332.35 L222.00,332.45 L221.50,332.42 L221.00,331.07 L220.50,332.22 L220.00,331.36 L219.50,331.75 L219.00,331.11 L218.50,331.18 L218.00,332.59 L217.50,331.74 L217.00,331.28 L216.50,332.12 L216.00,331.14 L215.50,331.93 L215.00,331.48 L214.50,331.24 L214.00,331.78 L213.50,331.77 L213.00,332.49 L212.50,332.42 L212.00,332.09 L211.50,332.27 L211.00,331.96 L210.50,331.85 L210.00,331.00 L209.50,331.32 L209.00,332.26 L208.50,331.51 L208.00,331.80 L207.50,331.50 L207.00,331.41 L206.50,332.22 L206.00,331.19 L205.50,331.41 L205.00,332.07 L204.50,332.20 L204.00,332.12 L203.50,331.13 L203.00,332.34 L202.50,332.20 L202.00,331.86 L201.50,331.13 L201.00,331.31 L200.50,332.17 L200.00,332.06 L199.50,330.86 L199.00,331.03 L198.50,331.19 L198.00,331.20 L197.50,331.83 L197.00,332.28 L196.50,331.78 L196.00,331.80 L195.50,332.24 L195.00,330.77 L194.50,331.62 L194.00,331.05 L193.50,331.44 L193.00,331.52 L192.50,330.90 L192.00,331.63 L191.50,332.29 L191.00,331.86 L190.50,330.84 L190.00,331.90 L189.50,332.25 L189.00,330.64 L188.50,330.70 L188.00,330.82 L187.50,331.09 L187.00,331.22 L186.50,330.96 L186.00,330.58 L185.50,331.08 L185.00,331.45 L184.50,330.60 L184.00,330.70 L183.50,330.31 L183.00,330.51 L182.50,330.71 L182.00,330.56 L181.50,330.25 L181.00,331.35 L180.50,331.21 L180.00,330.69 L179.50,330.87 L179.00,330.94 L178.50,330.11 L178.00,331.02 L177.50,330.64 L177.00,331.03 L176.50,330.22 L176.00,330.55 L175.50,329.84 L175.00,330.99 L174.50,330.02 L174.00,330.06 L173.50,330.96 L173.00,330.14 L172.50,330.21 L172.00,329.74 L171.50,329.69 L171.00,330.35 L170.50,330.37 L170.00,329.42 L169.50,329.56 L169.00,329.25 L168.50,329.45 L168.00,329.23 L167.50,328.62 L167.00,328.79 L166.50,329.13 L166.00,329.14 L165.50,329.54 L165.00,328.72 L164.50,328.13 L164.00,328.87 L163.50,328.57 L163.00,327.38 L162.50,328.39 L162.00,327.24 L161.50,328.39 L161.00,327.59 L160.50,327.32 L160.00,327.62 L159.50,326.01 L159.00,326.07 L158.50,325.78 L158.00,325.53 L157.50,324.97 L157.00,324.47 L156.50,324.44 L156.00,323.21 L155.50,323.63 L155.00,321.84 L154.50,322.23 L154.00,323.19 L153.50,323.15 L153.00,322.66 L152.50,323.23 L152.00,322.34 L151.50,323.60 L151.00,324.06 L150.50,323.14 L150.00,324.27 L149.50,323.38 L149.00,323.79 L148.50,323.68 L148.00,324.77 L147.50,325.37 L147.00,324.27 L146.50,324.85 L146.00,325.82 L145.50,326.10 L145.00,324.95 L144.50,325.70 L144.00,326.42 L143.50,326.21 L143.00,326.11 L142.50,326.68 L142.00,326.28 L141.50,326.54 L141.00,325.32 L140.50,325.89 L140.00,325.20 L139.50,324.51 L139.00,324.81 L138.50,324.43 L138.00,324.02 L137.50,323.71 L137.00,323.26 L136.50,323.01 L136.00,323.84 L135.50,323.62 L135.00,323.66 L134.50,322.48 L134.00,322.69 L133.50,323.51 L133.00,323.16 L132.50,324.05 L132.00,323.20 L131.50,324.02 L131.00,324.05 L130.50,323.76 L130.00,323.76 L129.50,324.36 L129.00,324.49 L128.50,323.55 L128.00,324.04 L127.50,323.91 L127.00,325.18 L126.50,325.31 L126.00,325.24 L125.50,325.55 L125.00,324.85 L124.50,324.77 L124.00,325.58 L123.50,324.75 L123.00,325.03 L122.50,325.28 L122.00,325.01 L121.50,325.49 L121.00,325.93 L120.50,325.83 L120.00,326.27 L119.50,325.66 L119.00,326.66 L118.50,326.23 L118.00,327.19 L117.50,326.23 L117.00,326.20 L116.50,326.81 L116.00,326.80 L115.50,327.32 L115.00,327.59 L114.50,327.27 L114.00,328.00 L113.50,327.32 L113.00,327.87 L112.50,327.94 L112.00,327.43 L111.50,328.75 L111.00,327.81 L110.50,328.56 L110.00,328.09 L109.50,328.29 L109.00,328.64 L108.50,329.14 L108.00,328.12 L107.50,328.83 L107.00,327.91 L106.50,328.42 L106.00,328.06 L105.50,328.51 L105.00,329.22 L104.50,328.03 L104.00,329.23 L103.50,328.30 L103.00,328.86 L102.50,328.26 L102.00,327.95 L101.50,328.99 L101.00,329.04 L100.50,328.41 L100.00,327.90 L99.50,329.04 L99.00,328.13 L98.50,327.85 L98.00,328.83 L97.50,327.95 L97.00,328.25 L96.50,328.76 L96.00,327.76 L95.50,328.08 L95.00,328.15 L94.50,328.00 L94.00,328.08 L93.50,328.24 L93.00,328.99 L92.50,327.86 L92.00,327.76 L91.50,328.30 L91.00,328.26 L90.50,328.49 L90.00,327.82 L89.50,328.53 L89.00,328.09 L88.50,329.17 L88.00,327.91 L87.50,328.17 L87.00,327.87 L86.50,327.98 L86.00,328.85 L85.50,328.35 L85.00,328.97 L84.50,328.06 L84.00,327.91 L83.50,328.70 L83.00,328.16 L82.50,327.92 L82.00,329.05 L81.50,328.31 L81.00,329.05 L80.50,328.47 L80.00,327.99 L79.50,328.80 L79.00,328.93 L78.50,327.99 L78.00,328.84 L77.50,328.96 L77.00,327.53 L76.50,327.85 L76.00,328.44 L75.50,328.15 L75.00,328.97 L74.50,328.36 L74.00,328.85 L73.50,327.50 L73.00,328.03 L72.50,328.12 L72.00,327.95 L71.50,328.32 L71.00,328.83 L70.50,327.53 L70.00,327.80 L69.50,327.63 L69.00,327.92 L68.50,328.49 L68.00,327.86 L67.50,328.57 L67.00,327.35 L66.50,327.42 L66.00,328.61 L65.50,328.29 L65.00,328.62 L64.50,328.13 L64.00,327.56 L63.50,327.44 L63.00,327.45 L62.50,328.48 L62.00,327.51 L61.50,327.45 L61.00,327.91 L60.50,328.16 L60.00,328.83 L59.50,328.08 L59.00,328.26 L58.50,327.64 L58.00,328.10 L57.50,328.00 L57.00,327.51 L56.50,328.26 L56.00,328.12 L55.50,328.52 L55.00,327.66 L54.50,327.17 L54.00,328.26 L53.50,327.64 L53.00,328.40 L52.50,327.80 L52.00,327.20 L51.50,328.14 L51.00,328.71 L50.50,327.68 L50.00,328.07 L49.50,328.11 L49.00,327.38 L48.50,327.39 L48.00,327.89 L47.50,327.89 L47.00,327.53 L46.50,327.31 L46.00,327.72 L45.50,328.47 L45.00,328.62 L44.50,328.34 L44.00,328.13 L43.50,328.45 L43.00,327.19 L42.50,327.82 L42.00,328.32 L41.50,328.56 L41.00,327.49 L40.50,327.25 L40.00,328.28 L39.50,327.81 L39.00,327.51 L38.50,328.55 L38.00,327.94 L37.50,327.64 L37.00,327.71 L36.50,328.47 L36.00,328.33 L35.50,327.83 L35.00,327.80 L34.50,327.54 L34.00,327.49 L33.50,327.04 L33.00,327.72 L32.50,327.95 L32.00,328.38 L31.50,327.42 L31.00,327.80 L30.50,327.42 L30.00,327.46 L29.50,327.93 L29.00,327.65 L28.50,327.65 L28.00,328.41 L27.50,327.67 L27.00,328.04 L26.50,328.27 L26.00,327.58 L25.50,327.68 L25.00,326.85 L24.50,326.78 L24.00,328.22 L23.50,327.44 L23.00,327.07 L22.50,328.27 L22.00,328.07 L21.50,328.08 L21.00,327.24 L20.50,328.19 L20.00,326.85 L19.50,327.63Z" fill="#00f" stroke="#00f" stroke-width="0.4"/>
<path d="M19.50,326.48 L19.78,327.42 L20.06,326.16 L20.34,327.22 L20.62,326.47 L20.90,328.35 L21.18,326.00 L21.46,330.14 L21.74,325.58 L22.02,328.40 L22.30,324.38 L22.58,328.53 L22.86,326.47 L23.14,328.82 L23.42,325.51 L23.70,329.41 L23.98,324.55 L24.26,327.56 L24.54,323.56 L24.82,329.78 L25.10,325.63 L25.38,328.96 L25.66,323.76 L25.94,328.29 L26.22,324.68 L26.50,328.55 L26.78,324.82 L27.06,328.72 L27.34,325.30 L27.62,329.16 L27.90,323.88 L28.18,329.85 L28.46,326.35 L28.74,328.69 L29.02,323.89 L29.30,327.70 L29.58,324.35 L29.86,330.14 L30.14,325.24 L30.42,329.66 L30.70,325.11 L30.98,328.70 L31.26,324.28 L31.54,328.65 L31.82,323.93 L32.10,328.85 L32.38,325.45 L32.66,330.23 L32.94,324.88 L33.22,330.26 L33.50,324.99 L33.78,327.76 L34.06,325.35 L34.34,328.24 L34.62,326.02 L34.90,330.15 L35.18,326.77 L35.46,328.23 L35.74,323.95 L36.02,327.90 L36.30,324.88 L36.58,330.00 L36.86,326.69 L37.14,328.76 L37.42,326.11 L37.70,330.12 L37.98,326.12 L38.26,330.38 L38.54,324.42 L38.82,329.39 L39.10,323.72 L39.38,328.69 L39.66,324.36 L39.94,329.64 L40.22,325.94 L40.50,329.24 L40.78,326.52 L41.06,328.63 L41.34,326.48 L41.62,328.82 L41.90,326.63 L42.18,327.85 L42.46,324.26 L42.74,328.26 L43.02,324.82 L43.30,328.21 L43.58,325.90 L43.86,328.02 L44.14,324.14 L44.42,329.47 L44.70,326.10 L44.98,327.65 L45.26,326.05 L45.54,330.53 L45.82,325.69 L46.10,330.36 L46.38,325.52 L46.66,328.13 L46.94,324.15 L47.22,327.75 L47.50,325.94 L47.78,329.89 L48.06,324.42 L48.34,329.29 L48.62,326.47 L48.90,328.87 L49.18,324.18 L49.46,330.66 L49.74,324.18 L50.02,328.19 L50.30,324.42 L50.58,328.98 L50.86,324.76 L51.14,328.56 L51.42,325.06 L51.70,330.30 L51.98,326.64 L52.26,329.05 L52.54,326.05 L52.82,328.20 L53.10,326.89 L53.38,330.73 L53.66,324.97 L53.94,330.31 L54.22,325.48 L54.50,328.02 L54.78,326.44 L55.06,330.69 L55.34,324.49 L55.62,328.22 L55.90,326.09 L56.18,329.59 L56.46,325.46 L56.74,330.35 L57.02,326.65 L57.30,329.62 L57.58,326.76 L57.86,328.95 L58.14,324.26 L58.42,329.86 L58.70,324.72 L58.98,328.09 L59.26,325.92 L59.54,330.80 L59.82,324.62 L60.10,329.81 L60.38,325.58 L60.66,329.15 L60.94,325.35 L61.22,329.87 L61.50,324.16 L61.78,329.18 L62.06,325.22 L62.34,330.95 L62.62,325.63 L62.90,327.93 L63.18,324.35 L63.46,330.59 L63.74,326.34 L64.02,330.21 L64.30,325.11 L64.58,329.51 L64.86,325.10 L65.14,329.32 L65.42,325.95 L65.70,328.12 L65.98,327.43 L66.26,331.03 L66.54,326.09 L66.82,328.74 L67.10,327.09 L67.38,328.74 L67.66,326.36 L67.94,329.20 L68.22,325.53 L68.50,330.32 L68.78,326.91 L69.06,328.49 L69.34,327.37 L69.62,329.11 L69.90,325.41 L70.18,328.87 L70.46,326.79 L70.74,329.68 L71.02,326.49 L71.30,330.19 L71.58,326.24 L71.86,330.04 L72.14,324.74 L72.42,330.27 L72.70,325.58 L72.98,328.26 L73.26,326.09 L73.54,330.21 L73.82,325.37 L74.10,330.64 L74.38,325.72 L74.66,330.96 L74.94,324.68 L75.22,328.70 L75.50,326.08 L75.78,330.04 L76.06,326.46 L76.34,330.50 L76.62,325.24 L76.90,331.25 L77.18,325.67 L77.46,330.51 L77.74,327.01 L78.02,329.78 L78.30,327.68 L78.58,330.45 L78.86,327.65 L79.14,329.72 L79.42,325.07 L79.70,330.98 L79.98,326.64 L80.26,328.51 L80.54,325.97 L80.82,329.18 L81.10,326.21 L81.38,328.91 L81.66,325.12 L81.94,330.11 L82.22,327.70 L82.50,330.77 L82.78,325.74 L83.06,331.56 L83.34,325.48 L83.62,330.83 L83.90,327.16 L84.18,331.00 L84.46,326.24 L84.74,331.07 L85.02,326.88 L85.30,329.05 L85.58,327.04 L85.86,331.12 L86.14,327.32 L86.42,328.79 L86.70,326.94 L86.98,331.51 L87.26,327.60 L87.54,329.09 L87.82,326.18 L88.10,331.37 L88.38,325.74 L88.66,330.16 L88.94,327.86 L89.22,329.87 L89.50,328.02 L89.78,331.19 L90.06,326.22 L90.34,329.57 L90.62,327.22 L90.90,330.63 L91.18,327.34 L91.46,330.86 L91.74,325.46 L92.02,330.64 L92.30,325.43 L92.58,329.98 L92.86,326.30 L93.14,330.35 L93.42,327.09 L93.70,331.05 L93.98,326.67 L94.26,331.76 L94.54,328.05 L94.82,330.08 L95.10,328.22 L95.38,331.58 L95.66,327.09 L95.94,329.57 L96.22,326.23 L96.50,331.42 L96.78,325.71 L97.06,331.25 L97.34,327.51 L97.62,331.38 L97.90,327.64 L98.18,330.38 L98.46,326.81 L98.74,329.87 L99.02,326.85 L99.30,329.65 L99.58,326.98 L99.86,330.58 L100.14,327.37 L100.42,330.77 L100.70,327.27 L100.98,329.28 L101.26,327.45 L101.54,330.58 L101.82,327.43 L102.10,328.63 L102.38,326.49 L102.66,330.62 L102.94,326.68 L103.22,328.70 L103.50,325.55 L103.78,331.35 L104.06,326.53 L104.34,329.48 L104.62,327.37 L104.90,330.29 L105.18,327.97 L105.46,330.65 L105.74,327.29 L106.02,331.02 L106.30,325.22 L106.58,330.87 L106.86,325.30 L107.14,329.82 L107.42,326.69 L107.70,330.69 L107.98,327.75 L108.26,330.16 L108.54,325.53 L108.82,330.66 L109.10,327.16 L109.38,328.57 L109.66,325.55 L109.94,331.02 L110.22,327.23 L110.50,330.38 L110.78,327.73 L111.06,329.61 L111.34,326.70 L111.62,329.99 L111.90,327.10 L112.18,329.61 L112.46,325.69 L112.74,328.31 L113.02,325.01 L113.30,328.73 L113.58,324.82 L113.86,328.92 L114.14,325.70 L114.42,328.24 L114.70,324.66 L114.98,329.04 L115.26,325.59 L115.54,327.96 L115.82,327.06 L116.10,328.75 L116.38,324.92 L116.66,329.77 L116.94,324.96 L117.22,329.19 L117.50,324.80 L117.78,329.81 L118.06,326.27 L118.34,328.47 L118.62,324.85 L118.90,327.39 L119.18,324.54 L119.46,328.57 L119.74,324.30 L120.02,327.65 L120.30,326.33 L120.58,329.36 L120.86,325.92 L121.14,327.65 L121.42,324.46 L121.70,329.06 L121.98,324.99 L122.26,327.33 L122.54,323.95 L122.82,327.90 L123.10,325.19 L123.38,328.53 L123.66,325.07 L123.94,327.18 L124.22,323.89 L124.50,327.12 L124.78,324.27 L125.06,327.37 L125.34,325.74 L125.62,329.14 L125.90,325.67 L126.18,326.60 L126.46,323.87 L126.74,329.52 L127.02,323.23 L127.30,326.54 L127.58,322.84 L127.86,326.67 L128.14,323.21 L128.42,327.16 L128.70,322.97 L128.98,328.87 L129.26,324.72 L129.54,329.06 L129.82,323.59 L130.10,326.43 L130.38,324.75 L130.66,326.57 L130.94,325.60 L131.22,329.29 L131.50,323.25 L131.78,326.91 L132.06,324.71 L132.34,329.37 L132.62,324.13 L132.90,328.78 L133.18,323.90 L133.46,329.24 L133.74,322.57 L134.02,326.38 L134.30,323.54 L134.58,326.77 L134.86,322.90 L135.14,328.10 L135.42,323.01 L135.70,328.35 L135.98,323.24 L136.26,327.56 L136.54,323.23 L136.82,327.45 L137.10,324.46 L137.38,329.53 L137.66,324.06 L137.94,328.35 L138.22,325.95 L138.50,328.87 L138.78,323.79 L139.06,326.96 L139.34,325.98 L139.62,327.77 L139.90,324.14 L140.18,329.54 L140.46,324.14 L140.74,329.86 L141.02,323.47 L141.30,328.48 L141.58,324.62 L141.86,328.32 L142.14,324.49 L142.42,329.97 L142.70,325.50 L142.98,328.01 L143.26,325.07 L143.54,328.31 L143.82,325.52 L144.10,327.01 L144.38,326.07 L144.66,327.79 L144.94,324.68 L145.22,328.95 L145.50,324.68 L145.78,326.97 L146.06,324.53 L146.34,328.69 L146.62,324.54 L146.90,329.39 L147.18,326.26 L147.46,329.79 L147.74,325.02 L148.02,326.95 L148.30,323.89 L148.58,327.88 L148.86,324.20 L149.14,328.99 L149.42,323.59 L149.70,329.35 L149.98,325.54 L150.26,327.23 L150.54,325.70 L150.82,329.51 L151.10,324.98 L151.38,328.62 L151.66,324.79 L151.94,327.88 L152.22,323.68 L152.50,326.49 L152.78,322.62 L153.06,327.18 L153.34,325.31 L153.62,327.91 L153.90,324.43 L154.18,326.31 L154.46,323.22 L154.74,327.46 L155.02,324.83 L155.30,328.32 L155.58,324.92 L155.86,328.38 L156.14,324.52 L156.42,327.81 L156.70,325.18 L156.98,328.81 L157.26,325.22 L157.54,328.26 L157.82,324.23 L158.10,328.17 L158.38,324.57 L158.66,327.46 L158.94,325.37 L159.22,328.12 L159.50,325.70 L159.78,328.90 L160.06,325.09 L160.34,329.86 L160.62,327.03 L160.90,328.91 L161.18,326.05 L161.46,328.98 L161.74,326.88 L162.02,329.79 L162.30,325.31 L162.58,328.35 L162.86,326.13 L163.14,328.88 L163.42,327.15 L163.70,328.30 L163.98,327.33 L164.26,330.52 L164.54,326.18 L164.82,328.60 L165.10,327.36 L165.38,330.43 L165.66,325.79 L165.94,330.17 L166.22,325.75 L166.50,329.97 L166.78,327.55 L167.06,329.63 L167.34,326.78 L167.62,330.75 L167.90,326.72 L168.18,328.61 L168.46,327.53 L168.74,330.00 L169.02,327.09 L169.30,329.23 L169.58,327.84 L169.86,330.83 L170.14,327.72 L170.42,330.39 L170.70,327.39 L170.98,330.77 L171.26,327.08 L171.54,330.59 L171.82,327.15 L172.10,331.45 L172.38,326.75 L172.66,330.17 L172.94,326.44 L173.22,331.21 L173.50,328.11 L173.78,331.05 L174.06,327.18 L174.34,331.20 L174.62,328.51 L174.90,331.66 L175.18,328.06 L175.46,329.78 L175.74,327.00 L176.02,330.96 L176.30,328.56 L176.58,330.53 L176.86,327.52 L177.14,332.09 L177.42,327.75 L177.70,331.32 L177.98,328.50 L178.26,331.58 L178.54,327.75 L178.82,330.71 L179.10,328.87 L179.38,331.57 L179.66,327.78 L179.94,331.03 L180.22,329.28 L180.50,332.15 L180.78,329.46 L181.06,330.80 L181.34,327.88 L181.62,331.00 L181.90,327.80 L182.18,332.71 L182.46,329.03 L182.74,331.93 L183.02,328.44 L183.30,331.67 L183.58,329.54 L183.86,331.00 L184.14,327.12 L184.42,331.53 L184.70,328.40 L184.98,331.98 L185.26,329.51 L185.54,332.12 L185.82,328.51 L186.10,330.79 L186.38,328.45 L186.66,331.93 L186.94,328.69 L187.22,331.01 L187.50,329.16 L187.78,331.26 L188.06,328.45 L188.34,333.20 L188.62,329.25 L188.90,331.81 L189.18,329.52 L189.46,331.23 L189.74,327.80 L190.02,332.73 L190.30,327.73 L190.58,331.14 L190.86,327.84 L191.14,333.09 L191.42,329.60 L191.70,331.84 L191.98,327.80 L192.26,331.55 L192.54,329.55 L192.82,332.08 L193.10,327.89 L193.38,331.56 L193.66,328.86 L193.94,331.85 L194.22,330.38 L194.50,331.27 L194.78,330.09 L195.06,332.98 L195.34,328.74 L195.62,332.04 L195.90,327.92 L196.18,330.86 L196.46,328.60 L196.74,332.69 L197.02,328.69 L197.30,332.71 L197.58,330.07 L197.86,331.95 L198.14,329.20 L198.42,332.30 L198.70,328.04 L198.98,332.59 L199.26,330.10 L199.54,331.34 L199.82,330.07 L200.10,332.72 L200.38,328.42 L200.66,333.24 L200.94,329.27 L201.22,332.43 L201.50,329.09 L201.78,332.14 L202.06,329.39 L202.34,332.45 L202.62,329.94 L202.90,332.87 L203.18,330.24 L203.46,331.97 L203.74,328.05 L204.02,332.59 L204.30,329.27 L204.58,332.35 L204.86,329.35 L205.14,332.57 L205.42,328.62 L205.70,331.38 L205.98,328.67 L206.26,331.59 L206.54,329.96 L206.82,331.90 L207.10,329.08 L207.38,331.03 L207.66,329.06 L207.94,331.18 L208.22,328.08 L208.50,332.30 L208.78,329.55 L209.06,333.28 L209.34,330.12 L209.62,333.22 L209.90,329.45 L210.18,332.95 L210.46,330.28 L210.74,331.99 L211.02,329.97 L211.30,332.15 L211.58,329.65 L211.86,331.71 L212.14,328.69 L212.42,332.88 L212.70,330.07 L212.98,333.05 L213.26,330.27 L213.54,332.90 L213.82,328.21 L214.10,333.18 L214.38,329.94 L214.66,331.02 L214.94,329.00 L215.22,331.76 L215.50,328.61 L215.78,331.14 L216.06,329.69 L216.34,333.04 L216.62,328.10 L216.90,331.67 L217.18,328.07 L217.46,331.32 L217.74,328.71 L218.02,332.85 L218.30,329.44 L218.58,332.63 L218.86,329.39 L219.14,333.05 L219.42,330.28 L219.70,332.62 L219.98,330.10 L220.26,333.06 L220.54,330.00 L220.82,330.97 L221.10,328.96 L221.38,333.37 L221.66,328.94 L221.94,331.83 L222.22,328.54 L222.50,332.07 L222.78,328.21 L223.06,332.28 L223.34,329.83 L223.62,332.37 L223.90,329.70 L224.18,333.18 L224.46,330.08 L224.74,333.16 L225.02,330.33 L225.30,330.94 L225.58,330.37 L225.86,332.14 L226.14,328.72 L226.42,332.59 L226.70,329.89 L226.98,332.22 L227.26,330.35 L227.54,333.24 L227.82,329.22 L228.10,331.29 L228.38,329.51 L228.66,332.11 L228.94,328.22 L229.22,333.13 L229.50,328.68 L229.78,331.22 L230.06,330.15 L230.34,332.92 L230.62,330.35 L230.90,333.41 L231.18,329.52 L231.46,331.04 L231.74,328.88 L232.02,331.10" fill="none" stroke="#f0f" stroke-width="1.0" stroke-linejoin="round"/>
<rect x="19.4" y="0.3" width="213.5" height="339.09999999999997" fill="none" stroke="#000" stroke-width="1.4"/>
<line x1="34.40" y1="339.40" x2="34.40" y2="343.70" stroke="#000" stroke-width="1.3"/>
<text x="34.40" y="359.00" font-family="Liberation Serif" font-weight="bold" font-size="15" text-anchor="middle" >1.456</text>
<line x1="55.42" y1="339.40" x2="55.42" y2="341.90" stroke="#000" stroke-width="1.3"/>
<line x1="76.45" y1="339.40" x2="76.45" y2="343.70" stroke="#000" stroke-width="1.3"/>
<text x="76.45" y="359.00" font-family="Liberation Serif" font-weight="bold" font-size="15" text-anchor="middle" >1.463</text>
<line x1="97.47" y1="339.40" x2="97.47" y2="341.90" stroke="#000" stroke-width="1.3"/>
<line x1="118.50" y1="339.40" x2="118.50" y2="343.70" stroke="#000" stroke-width="1.3"/>
<text x="118.50" y="359.00" font-family="Liberation Serif" font-weight="bold" font-size="15" text-anchor="middle" >1.470</text>
<line x1="139.52" y1="339.40" x2="139.52" y2="341.90" stroke="#000" stroke-width="1.3"/>
<line x1="160.55" y1="339.40" x2="160.55" y2="343.70" stroke="#000" stroke-width="1.3"/>
<text x="160.55" y="359.00" font-family="Liberation Serif" font-weight="bold" font-size="15" text-anchor="middle" >1.477</text>
<line x1="181.57" y1="339.40" x2="181.57" y2="341.90" stroke="#000" stroke-width="1.3"/>
<line x1="202.60" y1="339.40" x2="202.60" y2="343.70" stroke="#000" stroke-width="1.3"/>
<text x="202.60" y="359.00" font-family="Liberation Serif" font-weight="bold" font-size="15" text-anchor="middle" >1.484</text>
<line x1="223.62" y1="339.40" x2="223.62" y2="341.90" stroke="#000" stroke-width="1.3"/>
<line x1="16.90" y1="17.00" x2="19.40" y2="17.00" stroke="#000" stroke-width="1.3"/>
<line x1="14.90" y1="59.00" x2="19.40" y2="59.00" stroke="#000" stroke-width="1.3"/>
<line x1="16.90" y1="101.00" x2="19.40" y2="101.00" stroke="#000" stroke-width="1.3"/>
<line x1="14.90" y1="143.00" x2="19.40" y2="143.00" stroke="#000" stroke-width="1.3"/>
<line x1="16.90" y1="185.00" x2="19.40" y2="185.00" stroke="#000" stroke-width="1.3"/>
<line x1="14.90" y1="227.00" x2="19.40" y2="227.00" stroke="#000" stroke-width="1.3"/>
<line x1="16.90" y1="269.00" x2="19.40" y2="269.00" stroke="#000" stroke-width="1.3"/>
<line x1="14.90" y1="311.00" x2="19.40" y2="311.00" stroke="#000" stroke-width="1.3"/>
<text x="83.65" y="375.20" font-family="Liberation Serif" font-weight="bold" font-size="15.5" text-anchor="start" >Energy (eV)</text>
<text transform="translate(11.3,155) rotate(-90)" font-family="Liberation Serif" font-weight="bold" font-size="16" text-anchor="middle">PL Intensity (arb. units)</text>
<text x="22.25" y="20.70" font-family="Liberation Serif" font-weight="bold" font-size="20.5" text-anchor="start" >(a)</text>
<text x="227.70" y="18.70" font-family="Liberation Serif" font-weight="bold" font-size="15.7" text-anchor="end" >T=3.5K</text>
<text x="117.2" y="28.7" font-family="Liberation Serif" font-weight="bold" font-size="16">X<tspan font-size="10" dy="4.1">ZR</tspan><tspan font-size="8" dy="2.7">2</tspan></text>
<text x="112.7" y="288.8" font-family="Liberation Serif" font-weight="bold" font-size="16">X<tspan font-size="10" dy="4.1">ZR</tspan><tspan font-size="8" dy="2.5">1</tspan></text>
<text x="159.1" y="68.9" font-family="Liberation Serif" font-weight="bold" font-size="15.6">NiPS<tspan font-size="10.2" dy="4">3-x</tspan><tspan dy="-4">Se</tspan><tspan font-size="10.2" dy="4">x</tspan></text>
<line x1="160.10" y1="96.90" x2="190.20" y2="96.90" stroke="#000" stroke-width="1.4"/>
<text x="193.20" y="101.50" font-family="Liberation Serif" font-weight="bold" font-size="13.5" text-anchor="start" >0.008</text>
<line x1="160.10" y1="113.33" x2="190.20" y2="113.33" stroke="#f00" stroke-width="1.4"/>
<text x="193.20" y="117.93" font-family="Liberation Serif" font-weight="bold" font-size="13.5" text-anchor="start" >0.03</text>
<line x1="160.10" y1="129.76" x2="190.20" y2="129.76" stroke="#00f" stroke-width="1.4"/>
<text x="193.20" y="134.36" font-family="Liberation Serif" font-weight="bold" font-size="13.5" text-anchor="start" >0.06</text>
<line x1="160.10" y1="146.19" x2="190.20" y2="146.19" stroke="#f0f" stroke-width="1.4"/>
<text x="193.20" y="150.79" font-family="Liberation Serif" font-weight="bold" font-size="13.5" text-anchor="start" >0.09</text>
<rect x="311.1" y="2.1" width="157.0" height="146.4" fill="none" stroke="#000" stroke-width="1.6"/>
<line x1="354.90" y1="148.50" x2="354.90" y2="151.80" stroke="#000" stroke-width="1.4"/>
<text x="354.90" y="166.00" font-family="Liberation Serif" font-weight="bold" font-size="15" text-anchor="middle" >0.03</text>
<line x1="400.05" y1="148.50" x2="400.05" y2="151.80" stroke="#000" stroke-width="1.4"/>
<text x="400.05" y="166.00" font-family="Liberation Serif" font-weight="bold" font-size="15" text-anchor="middle" >0.06</text>
<line x1="445.20" y1="148.50" x2="445.20" y2="151.80" stroke="#000" stroke-width="1.4"/>
<text x="445.20" y="166.00" font-family="Liberation Serif" font-weight="bold" font-size="15" text-anchor="middle" >0.09</text>
<line x1="332.32" y1="148.50" x2="332.32" y2="150.50" stroke="#000" stroke-width="1.4"/>
<line x1="377.47" y1="148.50" x2="377.47" y2="150.50" stroke="#000" stroke-width="1.4"/>
<line x1="422.62" y1="148.50" x2="422.62" y2="150.50" stroke="#000" stroke-width="1.4"/>
<line x1="307.80" y1="26.20" x2="311.10" y2="26.20" stroke="#000" stroke-width="1.4"/>
<line x1="307.80" y1="62.55" x2="311.10" y2="62.55" stroke="#000" stroke-width="1.4"/>
<line x1="307.80" y1="98.90" x2="311.10" y2="98.90" stroke="#000" stroke-width="1.4"/>
<line x1="307.80" y1="135.25" x2="311.10" y2="135.25" stroke="#000" stroke-width="1.4"/>
<line x1="309.10" y1="7.90" x2="311.10" y2="7.90" stroke="#000" stroke-width="1.4"/>
<line x1="309.10" y1="44.40" x2="311.10" y2="44.40" stroke="#000" stroke-width="1.4"/>
<line x1="309.10" y1="80.70" x2="311.10" y2="80.70" stroke="#000" stroke-width="1.4"/>
<line x1="309.10" y1="117.10" x2="311.10" y2="117.10" stroke="#000" stroke-width="1.4"/>
<text x="304.70" y="30.80" font-family="Liberation Serif" font-weight="bold" font-size="15" text-anchor="end" >1.4760</text>
<text x="304.70" y="67.15" font-family="Liberation Serif" font-weight="bold" font-size="15" text-anchor="end" >1.4745</text>
<text x="304.70" y="103.50" font-family="Liberation Serif" font-weight="bold" font-size="15" text-anchor="end" >1.4730</text>
<text x="304.70" y="139.85" font-family="Liberation Serif" font-weight="bold" font-size="15" text-anchor="end" >1.4715</text>
<text x="350.30" y="180.00" font-family="Liberation Serif" font-weight="bold" font-size="14.85" text-anchor="start" >Se content (x)</text>
<rect x="311.1" y="198.0" width="157.0" height="146.60000000000002" fill="none" stroke="#000" stroke-width="1.6"/>
<line x1="354.90" y1="344.60" x2="354.90" y2="347.90" stroke="#000" stroke-width="1.4"/>
<text x="354.90" y="359.90" font-family="Liberation Serif" font-weight="bold" font-size="15" text-anchor="middle" >0.03</text>
<line x1="400.05" y1="344.60" x2="400.05" y2="347.90" stroke="#000" stroke-width="1.4"/>
<text x="400.05" y="359.90" font-family="Liberation Serif" font-weight="bold" font-size="15" text-anchor="middle" >0.06</text>
<line x1="445.20" y1="344.60" x2="445.20" y2="347.90" stroke="#000" stroke-width="1.4"/>
<text x="445.20" y="359.90" font-family="Liberation Serif" font-weight="bold" font-size="15" text-anchor="middle" >0.09</text>
<line x1="332.32" y1="344.60" x2="332.32" y2="346.60" stroke="#000" stroke-width="1.4"/>
<line x1="377.47" y1="344.60" x2="377.47" y2="346.60" stroke="#000" stroke-width="1.4"/>
<line x1="422.62" y1="344.60" x2="422.62" y2="346.60" stroke="#000" stroke-width="1.4"/>
<line x1="307.80" y1="210.40" x2="311.10" y2="210.40" stroke="#000" stroke-width="1.4"/>
<line x1="307.80" y1="248.60" x2="311.10" y2="248.60" stroke="#000" stroke-width="1.4"/>
<line x1="307.80" y1="286.70" x2="311.10" y2="286.70" stroke="#000" stroke-width="1.4"/>
<line x1="307.80" y1="324.90" x2="311.10" y2="324.90" stroke="#000" stroke-width="1.4"/>
<line x1="309.10" y1="229.50" x2="311.10" y2="229.50" stroke="#000" stroke-width="1.4"/>
<line x1="309.10" y1="267.60" x2="311.10" y2="267.60" stroke="#000" stroke-width="1.4"/>
<line x1="309.10" y1="305.80" x2="311.10" y2="305.80" stroke="#000" stroke-width="1.4"/>
<line x1="309.10" y1="344.00" x2="311.10" y2="344.00" stroke="#000" stroke-width="1.4"/>
<text x="304.80" y="215.00" font-family="Liberation Serif" font-weight="bold" font-size="15" text-anchor="end" >4.2</text>
<text x="304.80" y="253.20" font-family="Liberation Serif" font-weight="bold" font-size="15" text-anchor="end" >3.6</text>
<text x="304.80" y="291.30" font-family="Liberation Serif" font-weight="bold" font-size="15" text-anchor="end" >3.0</text>
<text x="304.80" y="329.50" font-family="Liberation Serif" font-weight="bold" font-size="15" text-anchor="end" >2.4</text>
<text x="350.90" y="376.20" font-family="Liberation Serif" font-weight="bold" font-size="14.85" text-anchor="start" >Se content (x)</text>
<rect x="527.4" y="2.0" width="156.80000000000007" height="146.6" fill="none" stroke="#000" stroke-width="1.6"/>
<line x1="571.20" y1="148.60" x2="571.20" y2="151.90" stroke="#000" stroke-width="1.4"/>
<text x="571.20" y="163.90" font-family="Liberation Serif" font-weight="bold" font-size="15" text-anchor="middle" >0.03</text>
<line x1="616.35" y1="148.60" x2="616.35" y2="151.90" stroke="#000" stroke-width="1.4"/>
<text x="616.35" y="163.90" font-family="Liberation Serif" font-weight="bold" font-size="15" text-anchor="middle" >0.06</text>
<line x1="661.50" y1="148.60" x2="661.50" y2="151.90" stroke="#000" stroke-width="1.4"/>
<text x="661.50" y="163.90" font-family="Liberation Serif" font-weight="bold" font-size="15" text-anchor="middle" >0.09</text>
<line x1="548.62" y1="148.60" x2="548.62" y2="150.60" stroke="#000" stroke-width="1.4"/>
<line x1="593.78" y1="148.60" x2="593.78" y2="150.60" stroke="#000" stroke-width="1.4"/>
<line x1="638.93" y1="148.60" x2="638.93" y2="150.60" stroke="#000" stroke-width="1.4"/>
<line x1="524.10" y1="16.80" x2="527.40" y2="16.80" stroke="#000" stroke-width="1.4"/>
<line x1="524.10" y1="43.20" x2="527.40" y2="43.20" stroke="#000" stroke-width="1.4"/>
<line x1="524.10" y1="69.60" x2="527.40" y2="69.60" stroke="#000" stroke-width="1.4"/>
<line x1="524.10" y1="96.00" x2="527.40" y2="96.00" stroke="#000" stroke-width="1.4"/>
<line x1="524.10" y1="122.40" x2="527.40" y2="122.40" stroke="#000" stroke-width="1.4"/>
<line x1="525.40" y1="3.60" x2="527.40" y2="3.60" stroke="#000" stroke-width="1.4"/>
<line x1="525.40" y1="30.00" x2="527.40" y2="30.00" stroke="#000" stroke-width="1.4"/>
<line x1="525.40" y1="56.40" x2="527.40" y2="56.40" stroke="#000" stroke-width="1.4"/>
<line x1="525.40" y1="82.80" x2="527.40" y2="82.80" stroke="#000" stroke-width="1.4"/>
<line x1="525.40" y1="109.20" x2="527.40" y2="109.20" stroke="#000" stroke-width="1.4"/>
<line x1="525.40" y1="135.60" x2="527.40" y2="135.60" stroke="#000" stroke-width="1.4"/>
<text x="521.00" y="21.40" font-family="Liberation Serif" font-weight="bold" font-size="15" text-anchor="end" >4.5</text>
<text x="521.00" y="47.80" font-family="Liberation Serif" font-weight="bold" font-size="15" text-anchor="end" >3.6</text>
<text x="521.00" y="74.20" font-family="Liberation Serif" font-weight="bold" font-size="15" text-anchor="end" >2.7</text>
<text x="521.00" y="100.60" font-family="Liberation Serif" font-weight="bold" font-size="15" text-anchor="end" >1.8</text>
<text x="521.00" y="127.00" font-family="Liberation Serif" font-weight="bold" font-size="15" text-anchor="end" >0.9</text>
<text x="566.50" y="180.00" font-family="Liberation Serif" font-weight="bold" font-size="14.85" text-anchor="start" >Se content (x)</text>
<rect x="527.2" y="198.0" width="157.0" height="146.60000000000002" fill="none" stroke="#000" stroke-width="1.6"/>
<line x1="571.20" y1="344.60" x2="571.20" y2="347.90" stroke="#000" stroke-width="1.4"/>
<text x="571.20" y="361.80" font-family="Liberation Serif" font-weight="bold" font-size="15" text-anchor="middle" >0.03</text>
<line x1="616.35" y1="344.60" x2="616.35" y2="347.90" stroke="#000" stroke-width="1.4"/>
<text x="616.35" y="361.80" font-family="Liberation Serif" font-weight="bold" font-size="15" text-anchor="middle" >0.06</text>
<line x1="661.50" y1="344.60" x2="661.50" y2="347.90" stroke="#000" stroke-width="1.4"/>
<text x="661.50" y="361.80" font-family="Liberation Serif" font-weight="bold" font-size="15" text-anchor="middle" >0.09</text>
<line x1="548.62" y1="344.60" x2="548.62" y2="346.60" stroke="#000" stroke-width="1.4"/>
<line x1="593.78" y1="344.60" x2="593.78" y2="346.60" stroke="#000" stroke-width="1.4"/>
<line x1="638.93" y1="344.60" x2="638.93" y2="346.60" stroke="#000" stroke-width="1.4"/>
<line x1="523.90" y1="214.50" x2="527.20" y2="214.50" stroke="#000" stroke-width="1.4"/>
<line x1="523.90" y1="246.90" x2="527.20" y2="246.90" stroke="#000" stroke-width="1.4"/>
<line x1="523.90" y1="279.30" x2="527.20" y2="279.30" stroke="#000" stroke-width="1.4"/>
<line x1="523.90" y1="311.70" x2="527.20" y2="311.70" stroke="#000" stroke-width="1.4"/>
<line x1="523.90" y1="344.10" x2="527.20" y2="344.10" stroke="#000" stroke-width="1.4"/>
<line x1="525.20" y1="230.70" x2="527.20" y2="230.70" stroke="#000" stroke-width="1.4"/>
<line x1="525.20" y1="263.10" x2="527.20" y2="263.10" stroke="#000" stroke-width="1.4"/>
<line x1="525.20" y1="295.50" x2="527.20" y2="295.50" stroke="#000" stroke-width="1.4"/>
<line x1="525.20" y1="327.90" x2="527.20" y2="327.90" stroke="#000" stroke-width="1.4"/>
<text x="568.40" y="376.40" font-family="Liberation Serif" font-weight="bold" font-size="14.85" text-anchor="start" >Se content (x)</text>
<text x="312.25" y="22.25" font-family="Liberation Serif" font-weight="bold" font-size="20.5" text-anchor="start" >(b)</text>
<text x="314.00" y="217.40" font-family="Liberation Serif" font-weight="bold" font-size="20.5" text-anchor="start" >(c)</text>
<text x="529.30" y="21.40" font-family="Liberation Serif" font-weight="bold" font-size="20.5" text-anchor="start" >(d)</text>
<text x="548.30" y="215.90" font-family="Liberation Serif" font-weight="bold" font-size="20.5" text-anchor="start" >(e)</text>
<text transform="translate(259.5,73.95) rotate(-90)" font-family="Liberation Serif" font-weight="bold" font-size="14.65" text-anchor="middle">Energy (eV)</text>
<text transform="translate(496,69.2) rotate(-90)" font-family="Liberation Serif" font-weight="bold" font-size="14.5" text-anchor="middle">FWHM(meV)</text>
<text transform="translate(519.2,272.8) rotate(-90)" font-family="Liberation Serif" font-weight="bold" font-size="14.87" text-anchor="middle">Intensity (arb. units)</text>
<text transform="translate(274.8,315.5) rotate(-90)" font-family="Liberation Serif" font-weight="bold" font-size="15"><tspan x="-0.3" y="0">E</tspan><tspan x="9.3" y="5.2" font-size="9.5">X</tspan><tspan x="16.2" y="7.3" font-size="6.8" textLength="7.6" lengthAdjust="spacingAndGlyphs">ZR</tspan><tspan x="24.6" y="8.6" font-size="5">2</tspan><tspan x="28.3" y="0">-E</tspan><tspan x="43.3" y="3.7" font-size="9.5">X</tspan><tspan x="50.4" y="7.3" font-size="6.8" textLength="7.8" lengthAdjust="spacingAndGlyphs">ZR</tspan><tspan x="58.8" y="8.2" font-size="5.5">1</tspan><tspan x="66.0" y="0" font-size="15">(meV)</tspan></text>
<path d="M321.80,97.20 L354.90,111.70 L400.10,113.50 L445.20,123.80" fill="none" stroke="#000" stroke-width="1.95" stroke-linejoin="round"/>
<path d="M321.80,40.30 L354.90,30.20 L400.10,22.60 L445.20,20.50" fill="none" stroke="#f00" stroke-width="1.9" stroke-linejoin="round"/>
<rect x="316.25" y="91.65" width="11.1" height="11.1" fill="#fff"/>
<rect x="318.05" y="93.45" width="7.5" height="7.5" fill="#fff" stroke="#000" stroke-width="1.6"/>
<path d="M320.10,94.80h3.4M321.80,94.80v4.8M320.10,99.60h3.4" stroke="#000" stroke-width="1" fill="none"/>
<rect x="349.35" y="106.15" width="11.1" height="11.1" fill="#fff"/>
<rect x="351.15" y="107.95" width="7.5" height="7.5" fill="#fff" stroke="#000" stroke-width="1.6"/>
<path d="M354.90,109.10v5.2M353.70,111.70h2.4" stroke="#000" stroke-width="1" fill="none"/>
<rect x="394.55" y="107.95" width="11.1" height="11.1" fill="#fff"/>
<rect x="396.35" y="109.75" width="7.5" height="7.5" fill="#fff" stroke="#000" stroke-width="1.6"/>
<path d="M398.40,111.10h3.4M400.10,111.10v4.8M398.40,115.90h3.4" stroke="#000" stroke-width="1" fill="none"/>
<rect x="439.65" y="118.25" width="11.1" height="11.1" fill="#fff"/>
<rect x="441.45" y="120.05" width="7.5" height="7.5" fill="#fff" stroke="#000" stroke-width="1.6"/>
<circle cx="321.80" cy="40.30" r="6.3" fill="#fff"/>
<circle cx="321.80" cy="40.30" r="4.3" fill="#fff" stroke="#f00" stroke-width="1.6"/>
<path d="M319.90,40.30h3.8M321.80,40.30v2.8" stroke="#f00" stroke-width="1" fill="none"/>
<circle cx="354.90" cy="30.20" r="6.3" fill="#fff"/>
<circle cx="354.90" cy="30.20" r="4.3" fill="#fff" stroke="#f00" stroke-width="1.6"/>
<path d="M354.90,27.60v5.2M353.70,30.20h2.4" stroke="#f00" stroke-width="1" fill="none"/>
<circle cx="400.10" cy="22.60" r="6.3" fill="#fff"/>
<circle cx="400.10" cy="22.60" r="4.3" fill="#fff" stroke="#f00" stroke-width="1.6"/>
<path d="M398.40,20.20h3.4M400.10,20.20v4.8M398.40,25.00h3.4" stroke="#f00" stroke-width="1" fill="none"/>
<circle cx="445.20" cy="20.50" r="6.3" fill="#fff"/>
<circle cx="445.20" cy="20.50" r="4.3" fill="#fff" stroke="#f00" stroke-width="1.6"/>
<path d="M443.50,18.10h3.4M445.20,18.10v4.8M443.50,22.90h3.4" stroke="#f00" stroke-width="1" fill="none"/>
<line x1="402.90" y1="74.10" x2="430.50" y2="74.10" stroke="#000" stroke-width="1.6"/>
<rect x="412.9" y="70.3" width="7.6" height="7.6" fill="#fff" stroke="#000" stroke-width="1.5"/>
<line x1="402.90" y1="92.90" x2="430.50" y2="92.90" stroke="#f00" stroke-width="1.6"/>
<circle cx="416.7" cy="92.9" r="4.3" fill="#fff" stroke="#f00" stroke-width="1.5"/>
<text x="433.3" y="78" font-family="Liberation Serif" font-weight="bold" font-size="11.3">X<tspan font-size="7.3" dy="3.5">ZR</tspan><tspan font-size="5.5" dy="1.8">1</tspan></text>
<text x="433.3" y="97" font-family="Liberation Serif" font-weight="bold" font-size="11.3">X<tspan font-size="7.3" dy="3.5">ZR</tspan><tspan font-size="5.5" dy="1.8">2</tspan></text>
<path d="M321.90,330.90 L355.00,268.20 L400.00,241.00 L445.20,209.50" fill="none" stroke="#00f" stroke-width="1.05" stroke-linejoin="round"/>
<path d="M315.65,325.70L328.15,325.70L321.90,336.00Z" fill="#fff" stroke="#fff" stroke-width="3.6" stroke-linejoin="round"/>
<path d="M315.65,325.70L328.15,325.70L321.90,336.00Z" fill="#00f" stroke="#00f" stroke-width="0.3"/>
<path d="M348.75,263.00L361.25,263.00L355.00,273.30Z" fill="#fff" stroke="#fff" stroke-width="3.6" stroke-linejoin="round"/>
<path d="M348.75,263.00L361.25,263.00L355.00,273.30Z" fill="#00f" stroke="#00f" stroke-width="0.3"/>
<path d="M393.75,235.80L406.25,235.80L400.00,246.10Z" fill="#fff" stroke="#fff" stroke-width="3.6" stroke-linejoin="round"/>
<path d="M393.75,235.80L406.25,235.80L400.00,246.10Z" fill="#00f" stroke="#00f" stroke-width="0.3"/>
<path d="M438.95,204.30L451.45,204.30L445.20,214.60Z" fill="#fff" stroke="#fff" stroke-width="3.6" stroke-linejoin="round"/>
<path d="M438.95,204.30L451.45,204.30L445.20,214.60Z" fill="#00f" stroke="#00f" stroke-width="0.3"/>
<path d="M538.10,95.10 L571.20,65.90 L616.30,53.30 L661.30,14.70" fill="none" stroke="#000" stroke-width="1.0" stroke-linejoin="round"/>
<path d="M538.10,137.00 L571.20,114.50 L616.30,101.50 L661.30,71.40" fill="none" stroke="#f00" stroke-width="1.0" stroke-linejoin="round"/>
<rect x="532.30" y="89.30" width="11.6" height="11.6" fill="#fff"/>
<rect x="534.10" y="91.10" width="8" height="8" fill="#fff" stroke="#000" stroke-width="1.6"/>
<path d="M536.20,95.10h3.8M538.10,95.10v2.8" stroke="#000" stroke-width="1" fill="none"/>
<rect x="565.40" y="60.10" width="11.6" height="11.6" fill="#fff"/>
<rect x="567.20" y="61.90" width="8" height="8" fill="#fff" stroke="#000" stroke-width="1.6"/>
<path d="M569.30,65.90h3.8M571.20,65.90v2.8" stroke="#000" stroke-width="1" fill="none"/>
<rect x="610.50" y="47.50" width="11.6" height="11.6" fill="#fff"/>
<rect x="612.30" y="49.30" width="8" height="8" fill="#fff" stroke="#000" stroke-width="1.6"/>
<path d="M614.40,53.30h3.8M616.30,53.30v2.8" stroke="#000" stroke-width="1" fill="none"/>
<rect x="655.50" y="8.90" width="11.6" height="11.6" fill="#fff"/>
<rect x="657.30" y="10.70" width="8" height="8" fill="#fff" stroke="#000" stroke-width="1.6"/>
<path d="M659.40,14.70h3.8M661.30,14.70v2.8" stroke="#000" stroke-width="1" fill="none"/>
<circle cx="538.10" cy="137.00" r="6.3" fill="#fff"/>
<circle cx="538.10" cy="137.00" r="4.3" fill="#fff" stroke="#f00" stroke-width="1.6"/>
<path d="M536.20,137.00h3.8M538.10,137.00v2.8" stroke="#f00" stroke-width="1" fill="none"/>
<circle cx="571.20" cy="114.50" r="6.3" fill="#fff"/>
<circle cx="571.20" cy="114.50" r="4.3" fill="#fff" stroke="#f00" stroke-width="1.6"/>
<path d="M569.30,114.50h3.8M571.20,114.50v2.8" stroke="#f00" stroke-width="1" fill="none"/>
<circle cx="616.30" cy="101.50" r="6.3" fill="#fff"/>
<circle cx="616.30" cy="101.50" r="4.3" fill="#fff" stroke="#f00" stroke-width="1.6"/>
<path d="M614.40,101.50h3.8M616.30,101.50v2.8" stroke="#f00" stroke-width="1" fill="none"/>
<circle cx="661.30" cy="71.40" r="6.3" fill="#fff"/>
<circle cx="661.30" cy="71.40" r="4.3" fill="#fff" stroke="#f00" stroke-width="1.6"/>
<path d="M659.40,71.40h3.8M661.30,71.40v2.8" stroke="#f00" stroke-width="1" fill="none"/>
<line x1="567.70" y1="12.30" x2="595.30" y2="12.30" stroke="#000" stroke-width="1.25"/>
<rect x="577.5" y="8.4" width="7.6" height="7.6" fill="#fff" stroke="#000" stroke-width="1.5"/>
<line x1="567.70" y1="31.40" x2="595.30" y2="31.40" stroke="#f00" stroke-width="1.0"/>
<circle cx="581.3" cy="31.4" r="4.3" fill="#fff" stroke="#f00" stroke-width="1.5"/>
<text x="597.9" y="16.6" font-family="Liberation Serif" font-weight="bold" font-size="11.6">X<tspan font-size="7.5" dy="3.5">ZR</tspan><tspan font-size="5.5" dy="1.8">1</tspan></text>
<text x="597.9" y="35.8" font-family="Liberation Serif" font-weight="bold" font-size="11.6">X<tspan font-size="7.5" dy="3.5">ZR</tspan><tspan font-size="5.5" dy="1.8">2</tspan></text>
<path d="M537.90,295.70 L571.00,295.70 L616.30,318.50 L661.40,324.60" fill="none" stroke="#000" stroke-width="1.0" stroke-linejoin="round"/>
<path d="M537.90,210.90 L571.00,318.60 L616.30,330.80 L661.40,331.70" fill="none" stroke="#f00" stroke-width="1.0" stroke-linejoin="round"/>
<rect x="532.10" y="289.90" width="11.6" height="11.6" fill="#fff"/>
<rect x="533.90" y="291.70" width="8" height="8" fill="#fff" stroke="#000" stroke-width="1.6"/>
<path d="M536.20,293.30h3.4M537.90,293.30v4.8M536.20,298.10h3.4" stroke="#000" stroke-width="1" fill="none"/>
<rect x="565.20" y="289.90" width="11.6" height="11.6" fill="#fff"/>
<rect x="567.00" y="291.70" width="8" height="8" fill="#fff" stroke="#000" stroke-width="1.6"/>
<path d="M569.30,293.30h3.4M571.00,293.30v4.8M569.30,298.10h3.4" stroke="#000" stroke-width="1" fill="none"/>
<rect x="610.50" y="312.70" width="11.6" height="11.6" fill="#fff"/>
<rect x="612.30" y="314.50" width="8" height="8" fill="#fff" stroke="#000" stroke-width="1.6"/>
<path d="M614.60,316.10h3.4M616.30,316.10v4.8M614.60,320.90h3.4" stroke="#000" stroke-width="1" fill="none"/>
<rect x="655.60" y="318.80" width="11.6" height="11.6" fill="#fff"/>
<rect x="657.40" y="320.60" width="8" height="8" fill="#fff" stroke="#000" stroke-width="1.6"/>
<path d="M659.70,322.20h3.4M661.40,322.20v4.8M659.70,327.00h3.4" stroke="#000" stroke-width="1" fill="none"/>
<circle cx="537.90" cy="210.90" r="6.3" fill="#fff"/>
<circle cx="537.90" cy="210.90" r="4.3" fill="#fff" stroke="#f00" stroke-width="1.6"/>
<path d="M536.20,208.50h3.4M537.90,208.50v4.8M536.20,213.30h3.4" stroke="#f00" stroke-width="1" fill="none"/>
<circle cx="571.00" cy="318.60" r="6.3" fill="#fff"/>
<circle cx="571.00" cy="318.60" r="4.3" fill="#fff" stroke="#f00" stroke-width="1.6"/>
<path d="M569.30,316.20h3.4M571.00,316.20v4.8M569.30,321.00h3.4" stroke="#f00" stroke-width="1" fill="none"/>
<circle cx="616.30" cy="330.80" r="6.3" fill="#fff"/>
<circle cx="616.30" cy="330.80" r="4.3" fill="#fff" stroke="#f00" stroke-width="1.6"/>
<path d="M614.60,328.40h3.4M616.30,328.40v4.8M614.60,333.20h3.4" stroke="#f00" stroke-width="1" fill="none"/>
<circle cx="661.40" cy="331.70" r="6.3" fill="#fff"/>
<circle cx="661.40" cy="331.70" r="4.3" fill="#fff" stroke="#f00" stroke-width="1.6"/>
<path d="M659.70,329.30h3.4M661.40,329.30v4.8M659.70,334.10h3.4" stroke="#f00" stroke-width="1" fill="none"/>
<line x1="626.00" y1="209.30" x2="653.70" y2="209.30" stroke="#000" stroke-width="1.25"/>
<rect x="635.7" y="205.4" width="7.6" height="7.6" fill="#fff" stroke="#000" stroke-width="1.5"/>
<line x1="626.00" y1="228.30" x2="653.70" y2="228.30" stroke="#f00" stroke-width="1.0"/>
<circle cx="639.5" cy="228.3" r="4.3" fill="#fff" stroke="#f00" stroke-width="1.5"/>
<text x="656.4" y="213.8" font-family="Liberation Serif" font-weight="bold" font-size="11.6">X<tspan font-size="7.5" dy="3.5">ZR</tspan><tspan font-size="5.5" dy="1.8">1</tspan></text>
<text x="656.4" y="232.9" font-family="Liberation Serif" font-weight="bold" font-size="11.6">X<tspan font-size="7.5" dy="3.5">ZR</tspan><tspan font-size="5.5" dy="1.8">2</tspan></text>
</svg>
</body></html>
